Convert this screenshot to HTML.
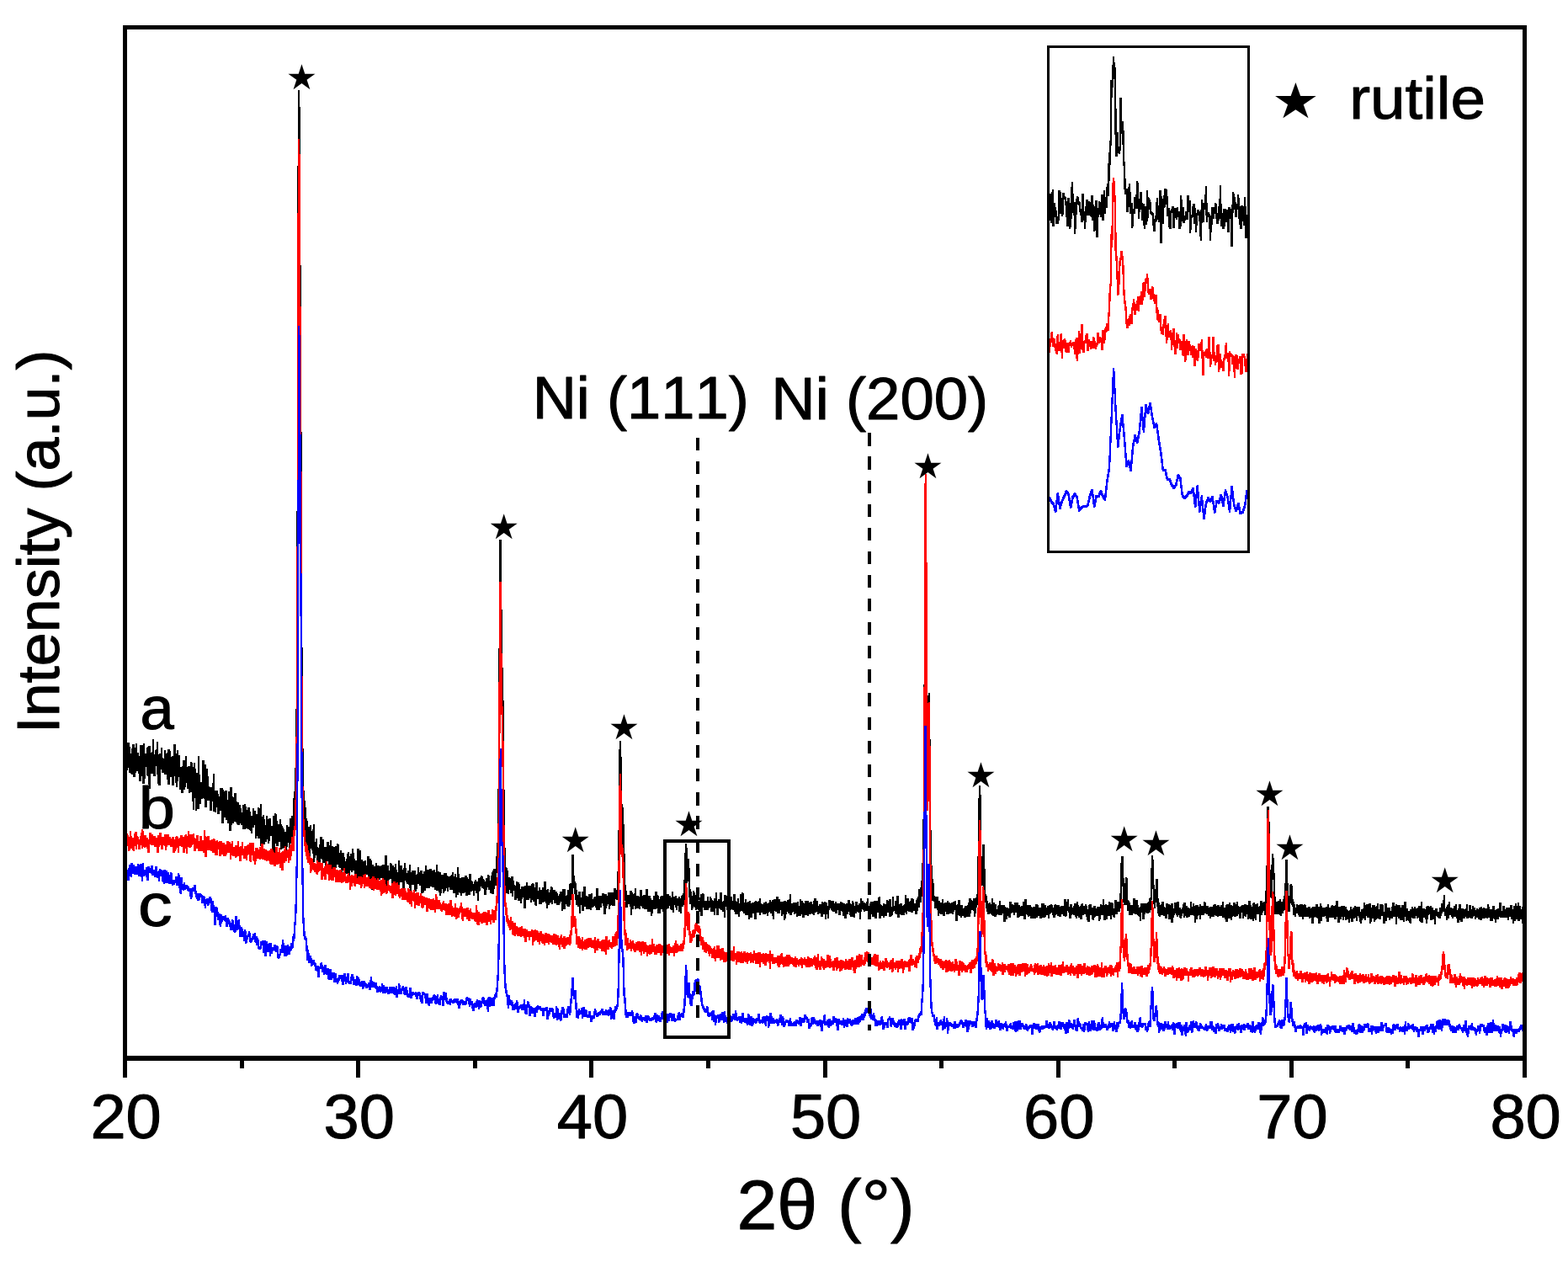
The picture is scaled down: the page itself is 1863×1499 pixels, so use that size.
<!DOCTYPE html>
<html lang="en"><head><meta charset="utf-8"><title>XRD patterns</title><style>html,body{margin:0;padding:0;background:#ffffff;}svg{display:block;}</style></head><body><svg width="1863" height="1499" viewBox="0 0 1863 1499">
<rect x="0" y="0" width="1863" height="1499" fill="#ffffff"/>
<g fill="none" stroke-width="1" shape-rendering="crispEdges">
<path d="M150.5 886V917M151.5 882V915M152.5 882V912M153.5 882V918M154.5 887V918M155.5 895V919M156.5 889V920M157.5 884V920M158.5 884V923M159.5 884V923M160.5 888V923M161.5 883V918M162.5 883V916M163.5 894V916M164.5 894V919M165.5 898V928M166.5 885V928M167.5 885V928M168.5 885V922M169.5 885V931M170.5 883V931M171.5 883V931M172.5 895V925M173.5 895V911M174.5 888V921M175.5 887V922M176.5 886V932M177.5 886V937M178.5 886V937M179.5 894V919M180.5 893V919M181.5 878V919M182.5 878V922M183.5 896V922M184.5 891V922M185.5 890V910M186.5 881V920M187.5 881V931M188.5 896V933M189.5 895V933M190.5 895V933M191.5 888V914M192.5 888V918M193.5 900V918M194.5 901V918M195.5 891V920M196.5 891V920M197.5 895V920M198.5 894V926M199.5 890V932M200.5 890V932M201.5 890V932M202.5 892V923M203.5 899V923M204.5 898V933M205.5 898V933M206.5 884V933M207.5 884V922M208.5 884V930M209.5 895V935M210.5 891V935M211.5 891V928M212.5 897V923M213.5 897V938M214.5 911V938M215.5 911V942M216.5 910V942M217.5 903V942M218.5 903V938M219.5 903V938M220.5 898V935M221.5 898V930M222.5 911V937M223.5 910V937M224.5 910V942M225.5 910V942M226.5 905V941M227.5 905V941M228.5 906V952M229.5 911V962M230.5 906V962M231.5 906V948M232.5 913V963M233.5 918V963M234.5 918V961M235.5 898V961M236.5 898V961M237.5 920V955M238.5 929V955M239.5 929V949M240.5 903V949M241.5 903V948M242.5 903V949M243.5 908V959M244.5 908V959M245.5 913V959M246.5 913V951M247.5 922V951M248.5 934V951M249.5 935V963M250.5 935V963M251.5 935V963M252.5 930V952M253.5 919V964M254.5 919V964M255.5 939V965M256.5 939V965M257.5 939V959M258.5 939V967M259.5 943V967M260.5 946V967M261.5 936V963M262.5 936V963M263.5 936V978M264.5 936V978M265.5 938V978M266.5 940V971M267.5 939V971M268.5 939V974M269.5 939V974M270.5 950V978M271.5 940V978M272.5 940V987M273.5 935V987M274.5 935V987M275.5 935V980M276.5 946V978M277.5 947V978M278.5 942V976M279.5 942V976M280.5 942V977M281.5 952V979M282.5 953V980M283.5 953V980M284.5 956V980M285.5 956V978M286.5 960V980M287.5 965V980M288.5 956V985M289.5 956V985M290.5 955V985M291.5 955V985M292.5 958V984M293.5 962V984M294.5 959V985M295.5 959V985M296.5 959V986M297.5 964V987M298.5 969V990M299.5 969V990M300.5 960V983M301.5 960V983M302.5 963V980M303.5 963V996M304.5 967V996M305.5 967V993M306.5 959V996M307.5 959V996M308.5 960V996M309.5 955V1005M310.5 955V1005M311.5 970V1005M312.5 968V1003M313.5 968V1003M314.5 973V1003M315.5 980V1000M316.5 969V1000M317.5 969V997M318.5 973V1002M319.5 972V1002M320.5 972V999M321.5 972V993M322.5 981V993M323.5 981V1011M324.5 969V1011M325.5 969V1013M326.5 966V1013M327.5 966V1002M328.5 967V1005M329.5 975V1005M330.5 979V1005M331.5 979V1000M332.5 973V1000M333.5 973V1009M334.5 979V1009M335.5 981V1008M336.5 983V1008M337.5 985V1007M338.5 988V1015M339.5 988V1015M340.5 980V1015M341.5 980V1006M342.5 982V1001M343.5 982V1008M344.5 972V1008M345.5 972V1002M346.5 969V995M347.5 969V995M348.5 948V993M349.5 940V990M350.5 912V965M351.5 842V952M352.5 607V921M353.5 197V869M354.5 107V699M355.5 107V359M356.5 127V584M357.5 315V812M358.5 513V916M359.5 769V948M360.5 889V959M361.5 939V978M362.5 951V1004M363.5 959V1004M364.5 972V1003M365.5 975V1006M366.5 982V1017M367.5 982V1017M368.5 980V1017M369.5 980V1008M370.5 987V1010M371.5 985V1014M372.5 979V1024M373.5 979V1024M374.5 1000V1019M375.5 996V1016M376.5 996V1025M377.5 1006V1030M378.5 1007V1030M379.5 1003V1026M380.5 994V1024M381.5 994V1020M382.5 994V1021M383.5 997V1025M384.5 997V1025M385.5 1006V1025M386.5 1006V1032M387.5 1006V1032M388.5 1000V1032M389.5 1000V1023M390.5 1000V1028M391.5 1004V1028M392.5 998V1028M393.5 998V1038M394.5 1005V1038M395.5 1005V1038M396.5 1006V1038M397.5 1006V1031M398.5 1005V1031M399.5 1005V1031M400.5 1002V1027M401.5 1002V1027M402.5 1003V1030M403.5 1013V1031M404.5 1010V1031M405.5 1010V1036M406.5 1013V1036M407.5 1013V1034M408.5 1013V1038M409.5 1018V1038M410.5 1023V1038M411.5 1020V1038M412.5 1014V1038M413.5 1012V1045M414.5 1012V1045M415.5 1017V1045M416.5 1014V1034M417.5 1014V1036M418.5 1008V1036M419.5 1008V1034M420.5 1013V1034M421.5 1020V1049M422.5 1022V1049M423.5 1022V1049M424.5 1008V1050M425.5 1008V1050M426.5 1008V1050M427.5 1010V1043M428.5 1010V1051M429.5 1021V1051M430.5 1021V1045M431.5 1023V1046M432.5 1023V1046M433.5 1022V1039M434.5 1022V1039M435.5 1028V1039M436.5 1017V1039M437.5 1017V1042M438.5 1017V1042M439.5 1020V1049M440.5 1020V1049M441.5 1022V1057M442.5 1027V1057M443.5 1027V1057M444.5 1029V1051M445.5 1029V1051M446.5 1025V1051M447.5 1025V1050M448.5 1028V1050M449.5 1028V1050M450.5 1028V1045M451.5 1029V1045M452.5 1028V1043M453.5 1028V1043M454.5 1027V1045M455.5 1027V1049M456.5 1027V1049M457.5 1016V1047M458.5 1016V1051M459.5 1016V1057M460.5 1028V1057M461.5 1028V1049M462.5 1034V1045M463.5 1025V1044M464.5 1025V1044M465.5 1026V1052M466.5 1028V1052M467.5 1028V1052M468.5 1030V1047M469.5 1026V1051M470.5 1026V1056M471.5 1033V1056M472.5 1036V1056M473.5 1022V1054M474.5 1022V1054M475.5 1028V1048M476.5 1028V1048M477.5 1028V1048M478.5 1033V1061M479.5 1031V1061M480.5 1025V1061M481.5 1025V1046M482.5 1031V1048M483.5 1037V1050M484.5 1034V1050M485.5 1034V1051M486.5 1027V1055M487.5 1027V1059M488.5 1036V1059M489.5 1034V1051M490.5 1034V1051M491.5 1034V1051M492.5 1034V1059M493.5 1034V1059M494.5 1039V1059M495.5 1038V1056M496.5 1030V1050M497.5 1030V1050M498.5 1036V1052M499.5 1034V1052M500.5 1034V1061M501.5 1034V1061M502.5 1038V1061M503.5 1035V1060M504.5 1035V1058M505.5 1028V1058M506.5 1028V1055M507.5 1033V1055M508.5 1033V1055M509.5 1033V1055M510.5 1032V1055M511.5 1032V1053M512.5 1032V1053M513.5 1034V1054M514.5 1034V1054M515.5 1033V1054M516.5 1033V1057M517.5 1036V1057M518.5 1027V1058M519.5 1027V1058M520.5 1035V1058M521.5 1035V1060M522.5 1036V1064M523.5 1036V1064M524.5 1039V1061M525.5 1039V1056M526.5 1039V1061M527.5 1037V1061M528.5 1037V1059M529.5 1037V1058M530.5 1037V1055M531.5 1040V1059M532.5 1041V1059M533.5 1041V1054M534.5 1041V1057M535.5 1040V1057M536.5 1039V1057M537.5 1036V1057M538.5 1036V1061M539.5 1041V1061M540.5 1038V1061M541.5 1038V1066M542.5 1042V1066M543.5 1030V1063M544.5 1030V1063M545.5 1038V1060M546.5 1043V1061M547.5 1043V1064M548.5 1042V1064M549.5 1042V1061M550.5 1042V1061M551.5 1042V1061M552.5 1040V1060M553.5 1040V1064M554.5 1040V1064M555.5 1042V1064M556.5 1044V1063M557.5 1038V1063M558.5 1038V1063M559.5 1038V1059M560.5 1046V1059M561.5 1047V1058M562.5 1050V1064M563.5 1047V1064M564.5 1045V1058M565.5 1045V1061M566.5 1047V1061M567.5 1047V1070M568.5 1043V1070M569.5 1043V1059M570.5 1042V1058M571.5 1040V1053M572.5 1040V1055M573.5 1041V1055M574.5 1044V1056M575.5 1045V1063M576.5 1047V1063M577.5 1043V1063M578.5 1043V1057M579.5 1039V1054M580.5 1039V1057M581.5 1040V1057M582.5 1046V1061M583.5 1040V1061M584.5 1036V1062M585.5 1034V1062M586.5 1032V1062M587.5 1032V1056M588.5 1032V1052M589.5 1017V1052M590.5 1001V1037M591.5 937V1034M592.5 770V1008M593.5 641V958M594.5 641V831M595.5 641V801M596.5 724V863M597.5 793V974M598.5 832V1014M599.5 938V1033M600.5 1007V1061M601.5 1030V1061M602.5 1031V1061M603.5 1034V1062M604.5 1042V1062M605.5 1042V1057M606.5 1043V1061M607.5 1041V1061M608.5 1041V1065M609.5 1041V1065M610.5 1046V1058M611.5 1051V1069M612.5 1052V1069M613.5 1047V1069M614.5 1047V1067M615.5 1048V1070M616.5 1048V1070M617.5 1050V1070M618.5 1056V1073M619.5 1053V1073M620.5 1053V1068M621.5 1053V1066M622.5 1053V1079M623.5 1052V1079M624.5 1052V1079M625.5 1048V1069M626.5 1048V1069M627.5 1052V1069M628.5 1052V1069M629.5 1052V1067M630.5 1052V1072M631.5 1050V1072M632.5 1049V1069M633.5 1049V1071M634.5 1050V1071M635.5 1054V1075M636.5 1048V1076M637.5 1048V1076M638.5 1048V1068M639.5 1058V1068M640.5 1054V1074M641.5 1054V1074M642.5 1057V1074M643.5 1057V1074M644.5 1054V1072M645.5 1054V1072M646.5 1047V1071M647.5 1047V1071M648.5 1047V1073M649.5 1057V1079M650.5 1056V1079M651.5 1056V1075M652.5 1060V1075M653.5 1057V1073M654.5 1053V1072M655.5 1053V1074M656.5 1054V1074M657.5 1057V1069M658.5 1057V1073M659.5 1057V1073M660.5 1059V1073M661.5 1059V1075M662.5 1061V1075M663.5 1064V1075M664.5 1062V1075M665.5 1059V1073M666.5 1059V1071M667.5 1059V1082M668.5 1056V1082M669.5 1056V1080M670.5 1056V1080M671.5 1056V1080M672.5 1064V1074M673.5 1063V1076M674.5 1057V1077M675.5 1057V1077M676.5 1050V1077M677.5 1049V1075M678.5 1049V1069M679.5 1015V1063M680.5 1015V1063M681.5 1015V1055M682.5 1040V1062M683.5 1047V1069M684.5 1049V1075M685.5 1057V1075M686.5 1063V1077M687.5 1059V1077M688.5 1059V1085M689.5 1059V1085M690.5 1066V1075M691.5 1059V1082M692.5 1059V1082M693.5 1053V1082M694.5 1053V1077M695.5 1053V1077M696.5 1064V1080M697.5 1064V1080M698.5 1065V1080M699.5 1062V1080M700.5 1062V1080M701.5 1062V1081M702.5 1061V1081M703.5 1061V1078M704.5 1068V1078M705.5 1066V1077M706.5 1065V1076M707.5 1065V1078M708.5 1055V1081M709.5 1055V1081M710.5 1055V1081M711.5 1064V1081M712.5 1064V1081M713.5 1064V1078M714.5 1064V1078M715.5 1061V1073M716.5 1061V1076M717.5 1061V1086M718.5 1062V1086M719.5 1062V1086M720.5 1062V1079M721.5 1064V1076M722.5 1060V1074M723.5 1060V1080M724.5 1060V1080M725.5 1060V1076M726.5 1060V1075M727.5 1060V1076M728.5 1060V1076M729.5 1055V1076M730.5 1055V1076M731.5 1055V1068M732.5 1057V1069M733.5 1035V1069M734.5 986V1062M735.5 890V1039M736.5 880V1010M737.5 880V968M738.5 899V973M739.5 955V1005M740.5 959V1041M741.5 979V1061M742.5 1014V1070M743.5 1051V1078M744.5 1058V1078M745.5 1063V1078M746.5 1063V1074M747.5 1063V1074M748.5 1058V1077M749.5 1058V1087M750.5 1058V1087M751.5 1060V1080M752.5 1062V1080M753.5 1061V1076M754.5 1055V1080M755.5 1055V1080M756.5 1064V1079M757.5 1064V1079M758.5 1064V1079M759.5 1065V1080M760.5 1057V1080M761.5 1057V1076M762.5 1057V1077M763.5 1064V1079M764.5 1063V1079M765.5 1063V1080M766.5 1063V1080M767.5 1056V1080M768.5 1056V1080M769.5 1056V1083M770.5 1064V1083M771.5 1064V1083M772.5 1064V1083M773.5 1067V1088M774.5 1069V1088M775.5 1069V1085M776.5 1064V1080M777.5 1064V1080M778.5 1059V1080M779.5 1059V1080M780.5 1059V1079M781.5 1063V1085M782.5 1064V1085M783.5 1068V1085M784.5 1065V1085M785.5 1064V1080M786.5 1064V1080M787.5 1064V1083M788.5 1062V1083M789.5 1062V1078M790.5 1062V1079M791.5 1062V1080M792.5 1062V1080M793.5 1062V1079M794.5 1062V1079M795.5 1064V1076M796.5 1064V1080M797.5 1066V1081M798.5 1059V1081M799.5 1059V1084M800.5 1065V1084M801.5 1065V1075M802.5 1064V1078M803.5 1064V1081M804.5 1067V1081M805.5 1067V1076M806.5 1065V1083M807.5 1065V1083M808.5 1067V1085M809.5 1064V1085M810.5 1063V1077M811.5 1061V1077M812.5 1045V1075M813.5 1013V1072M814.5 1002V1060M815.5 1002V1049M816.5 1007V1049M817.5 1020V1047M818.5 1020V1066M819.5 1031V1074M820.5 1056V1074M821.5 1059V1081M822.5 1064V1081M823.5 1058V1079M824.5 1058V1077M825.5 1060V1078M826.5 1063V1081M827.5 1062V1081M828.5 1062V1080M829.5 1066V1081M830.5 1070V1083M831.5 1066V1083M832.5 1062V1088M833.5 1062V1088M834.5 1061V1088M835.5 1061V1078M836.5 1062V1081M837.5 1070V1081M838.5 1070V1081M839.5 1070V1081M840.5 1065V1081M841.5 1065V1081M842.5 1070V1079M843.5 1065V1078M844.5 1065V1083M845.5 1067V1083M846.5 1069V1083M847.5 1070V1083M848.5 1067V1087M849.5 1067V1087M850.5 1060V1079M851.5 1060V1087M852.5 1070V1087M853.5 1068V1087M854.5 1068V1079M855.5 1060V1080M856.5 1060V1081M857.5 1060V1081M858.5 1071V1083M859.5 1070V1083M860.5 1063V1090M861.5 1063V1090M862.5 1063V1077M863.5 1064V1081M864.5 1064V1081M865.5 1065V1085M866.5 1065V1085M867.5 1068V1085M868.5 1065V1081M869.5 1065V1080M870.5 1070V1081M871.5 1062V1081M872.5 1062V1083M873.5 1062V1086M874.5 1070V1086M875.5 1071V1086M876.5 1067V1086M877.5 1067V1089M878.5 1073V1089M879.5 1062V1083M880.5 1062V1082M881.5 1060V1082M882.5 1060V1083M883.5 1061V1085M884.5 1072V1085M885.5 1068V1087M886.5 1068V1087M887.5 1072V1087M888.5 1071V1087M889.5 1071V1092M890.5 1070V1092M891.5 1070V1090M892.5 1073V1090M893.5 1072V1090M894.5 1072V1085M895.5 1072V1085M896.5 1071V1092M897.5 1070V1092M898.5 1070V1092M899.5 1071V1084M900.5 1071V1084M901.5 1070V1084M902.5 1067V1087M903.5 1067V1087M904.5 1073V1084M905.5 1074V1084M906.5 1074V1086M907.5 1072V1086M908.5 1072V1086M909.5 1071V1086M910.5 1071V1085M911.5 1073V1088M912.5 1073V1088M913.5 1072V1084M914.5 1069V1083M915.5 1069V1085M916.5 1071V1085M917.5 1069V1088M918.5 1069V1092M919.5 1068V1092M920.5 1068V1082M921.5 1068V1083M922.5 1065V1083M923.5 1065V1085M924.5 1065V1085M925.5 1068V1085M926.5 1068V1085M927.5 1071V1081M928.5 1071V1088M929.5 1071V1088M930.5 1071V1086M931.5 1070V1093M932.5 1070V1093M933.5 1070V1091M934.5 1071V1086M935.5 1069V1083M936.5 1069V1085M937.5 1068V1085M938.5 1062V1087M939.5 1062V1087M940.5 1073V1087M941.5 1073V1084M942.5 1072V1083M943.5 1072V1086M944.5 1072V1086M945.5 1072V1085M946.5 1072V1089M947.5 1071V1089M948.5 1071V1088M949.5 1076V1088M950.5 1068V1088M951.5 1068V1088M952.5 1070V1086M953.5 1070V1090M954.5 1072V1090M955.5 1073V1090M956.5 1070V1087M957.5 1070V1087M958.5 1070V1087M959.5 1070V1088M960.5 1070V1088M961.5 1072V1086M962.5 1071V1086M963.5 1071V1086M964.5 1071V1085M965.5 1074V1086M966.5 1070V1087M967.5 1067V1087M968.5 1067V1084M969.5 1067V1084M970.5 1070V1083M971.5 1070V1086M972.5 1076V1086M973.5 1074V1085M974.5 1074V1085M975.5 1074V1089M976.5 1071V1089M977.5 1071V1089M978.5 1072V1086M979.5 1071V1086M980.5 1071V1092M981.5 1072V1092M982.5 1072V1086M983.5 1076V1091M984.5 1069V1091M985.5 1069V1081M986.5 1069V1079M987.5 1070V1081M988.5 1070V1082M989.5 1070V1083M990.5 1070V1083M991.5 1073V1083M992.5 1071V1085M993.5 1071V1085M994.5 1073V1085M995.5 1073V1081M996.5 1073V1087M997.5 1073V1087M998.5 1071V1087M999.5 1071V1082M1000.5 1072V1083M1001.5 1072V1088M1002.5 1073V1088M1003.5 1073V1091M1004.5 1074V1091M1005.5 1073V1091M1006.5 1073V1086M1007.5 1069V1086M1008.5 1069V1083M1009.5 1069V1087M1010.5 1073V1089M1011.5 1074V1089M1012.5 1070V1089M1013.5 1070V1089M1014.5 1072V1090M1015.5 1076V1090M1016.5 1071V1085M1017.5 1071V1085M1018.5 1071V1083M1019.5 1075V1084M1020.5 1073V1084M1021.5 1073V1092M1022.5 1067V1092M1023.5 1067V1083M1024.5 1070V1080M1025.5 1070V1081M1026.5 1072V1083M1027.5 1072V1083M1028.5 1073V1082M1029.5 1071V1082M1030.5 1067V1082M1031.5 1067V1087M1032.5 1076V1087M1033.5 1073V1085M1034.5 1071V1084M1035.5 1071V1086M1036.5 1071V1089M1037.5 1071V1089M1038.5 1070V1089M1039.5 1070V1091M1040.5 1070V1091M1041.5 1070V1091M1042.5 1070V1084M1043.5 1066V1084M1044.5 1065V1091M1045.5 1065V1091M1046.5 1074V1091M1047.5 1075V1088M1048.5 1076V1088M1049.5 1073V1090M1050.5 1073V1090M1051.5 1074V1088M1052.5 1074V1088M1053.5 1069V1088M1054.5 1069V1084M1055.5 1070V1084M1056.5 1068V1089M1057.5 1068V1089M1058.5 1068V1089M1059.5 1077V1088M1060.5 1065V1087M1061.5 1065V1083M1062.5 1076V1082M1063.5 1070V1085M1064.5 1070V1086M1065.5 1064V1086M1066.5 1064V1090M1067.5 1064V1090M1068.5 1074V1090M1069.5 1073V1086M1070.5 1073V1087M1071.5 1073V1087M1072.5 1076V1087M1073.5 1075V1087M1074.5 1074V1087M1075.5 1063V1084M1076.5 1063V1086M1077.5 1067V1086M1078.5 1067V1082M1079.5 1067V1083M1080.5 1071V1083M1081.5 1070V1083M1082.5 1067V1084M1083.5 1067V1084M1084.5 1067V1084M1085.5 1068V1082M1086.5 1073V1082M1087.5 1073V1086M1088.5 1069V1086M1089.5 1067V1086M1090.5 1065V1082M1091.5 1056V1078M1092.5 1056V1078M1093.5 1054V1072M1094.5 1046V1072M1095.5 1025V1065M1096.5 973V1062M1097.5 813V1032M1098.5 618V989M1099.5 607V869M1100.5 607V913M1101.5 693V921M1102.5 826V921M1103.5 823V912M1104.5 823V1008M1105.5 878V1046M1106.5 986V1057M1107.5 1028V1070M1108.5 1044V1070M1109.5 1049V1071M1110.5 1064V1079M1111.5 1065V1079M1112.5 1065V1079M1113.5 1065V1081M1114.5 1065V1088M1115.5 1070V1088M1116.5 1070V1085M1117.5 1072V1086M1118.5 1072V1086M1119.5 1068V1086M1120.5 1068V1088M1121.5 1073V1088M1122.5 1072V1088M1123.5 1072V1083M1124.5 1072V1086M1125.5 1070V1086M1126.5 1070V1086M1127.5 1072V1086M1128.5 1072V1085M1129.5 1073V1085M1130.5 1072V1085M1131.5 1072V1086M1132.5 1071V1086M1133.5 1071V1083M1134.5 1070V1081M1135.5 1070V1094M1136.5 1075V1094M1137.5 1074V1094M1138.5 1069V1087M1139.5 1069V1088M1140.5 1069V1088M1141.5 1075V1090M1142.5 1075V1090M1143.5 1075V1088M1144.5 1079V1088M1145.5 1078V1090M1146.5 1076V1090M1147.5 1076V1090M1148.5 1076V1089M1149.5 1075V1089M1150.5 1072V1089M1151.5 1067V1089M1152.5 1067V1089M1153.5 1067V1085M1154.5 1069V1081M1155.5 1070V1081M1156.5 1067V1082M1157.5 1067V1089M1158.5 1067V1089M1159.5 1066V1085M1160.5 1062V1078M1161.5 1017V1075M1162.5 948V1070M1163.5 933V1040M1164.5 933V1028M1165.5 944V1050M1166.5 1017V1052M1167.5 1003V1052M1168.5 1003V1054M1169.5 1003V1070M1170.5 1032V1072M1171.5 1062V1079M1172.5 1064V1083M1173.5 1070V1086M1174.5 1073V1086M1175.5 1072V1086M1176.5 1072V1085M1177.5 1074V1086M1178.5 1067V1087M1179.5 1067V1088M1180.5 1072V1088M1181.5 1072V1089M1182.5 1074V1089M1183.5 1074V1089M1184.5 1080V1087M1185.5 1076V1086M1186.5 1075V1087M1187.5 1070V1087M1188.5 1070V1087M1189.5 1075V1087M1190.5 1075V1087M1191.5 1075V1085M1192.5 1075V1095M1193.5 1075V1095M1194.5 1077V1095M1195.5 1078V1092M1196.5 1078V1092M1197.5 1078V1088M1198.5 1079V1090M1199.5 1071V1090M1200.5 1071V1090M1201.5 1071V1085M1202.5 1074V1084M1203.5 1074V1084M1204.5 1075V1087M1205.5 1072V1087M1206.5 1072V1084M1207.5 1072V1084M1208.5 1072V1090M1209.5 1072V1090M1210.5 1075V1090M1211.5 1075V1089M1212.5 1077V1088M1213.5 1076V1088M1214.5 1076V1088M1215.5 1071V1088M1216.5 1071V1092M1217.5 1068V1092M1218.5 1068V1092M1219.5 1068V1086M1220.5 1075V1087M1221.5 1075V1089M1222.5 1075V1089M1223.5 1075V1088M1224.5 1075V1091M1225.5 1077V1091M1226.5 1078V1091M1227.5 1077V1091M1228.5 1077V1091M1229.5 1077V1091M1230.5 1074V1091M1231.5 1074V1090M1232.5 1074V1090M1233.5 1075V1088M1234.5 1078V1088M1235.5 1078V1091M1236.5 1078V1091M1237.5 1073V1091M1238.5 1073V1090M1239.5 1073V1090M1240.5 1073V1090M1241.5 1075V1090M1242.5 1075V1089M1243.5 1078V1087M1244.5 1076V1087M1245.5 1076V1091M1246.5 1075V1091M1247.5 1075V1086M1248.5 1074V1085M1249.5 1074V1084M1250.5 1075V1087M1251.5 1078V1090M1252.5 1075V1090M1253.5 1074V1090M1254.5 1074V1087M1255.5 1075V1086M1256.5 1075V1088M1257.5 1075V1088M1258.5 1075V1089M1259.5 1077V1089M1260.5 1076V1089M1261.5 1076V1086M1262.5 1076V1086M1263.5 1076V1088M1264.5 1068V1088M1265.5 1068V1089M1266.5 1068V1089M1267.5 1071V1088M1268.5 1068V1082M1269.5 1068V1084M1270.5 1077V1091M1271.5 1074V1091M1272.5 1074V1091M1273.5 1074V1087M1274.5 1078V1086M1275.5 1076V1087M1276.5 1073V1087M1277.5 1073V1089M1278.5 1073V1091M1279.5 1071V1091M1280.5 1071V1088M1281.5 1075V1090M1282.5 1077V1090M1283.5 1076V1092M1284.5 1074V1092M1285.5 1073V1092M1286.5 1073V1087M1287.5 1076V1087M1288.5 1076V1086M1289.5 1074V1086M1290.5 1074V1089M1291.5 1076V1093M1292.5 1080V1095M1293.5 1075V1095M1294.5 1074V1095M1295.5 1074V1087M1296.5 1074V1087M1297.5 1078V1092M1298.5 1078V1093M1299.5 1076V1093M1300.5 1076V1090M1301.5 1076V1089M1302.5 1079V1088M1303.5 1077V1088M1304.5 1077V1088M1305.5 1077V1094M1306.5 1077V1094M1307.5 1074V1092M1308.5 1074V1087M1309.5 1075V1087M1310.5 1068V1087M1311.5 1068V1093M1312.5 1075V1093M1313.5 1074V1093M1314.5 1074V1092M1315.5 1075V1092M1316.5 1075V1088M1317.5 1071V1088M1318.5 1071V1088M1319.5 1072V1092M1320.5 1072V1092M1321.5 1072V1087M1322.5 1073V1089M1323.5 1079V1090M1324.5 1069V1090M1325.5 1069V1086M1326.5 1069V1086M1327.5 1071V1086M1328.5 1071V1083M1329.5 1071V1083M1330.5 1061V1083M1331.5 1025V1079M1332.5 1017V1068M1333.5 1017V1053M1334.5 1017V1072M1335.5 1043V1075M1336.5 1049V1075M1337.5 1042V1075M1338.5 1042V1075M1339.5 1043V1082M1340.5 1069V1082M1341.5 1070V1087M1342.5 1072V1087M1343.5 1075V1087M1344.5 1075V1087M1345.5 1075V1087M1346.5 1067V1085M1347.5 1067V1085M1348.5 1067V1086M1349.5 1069V1086M1350.5 1069V1086M1351.5 1069V1087M1352.5 1075V1088M1353.5 1078V1089M1354.5 1077V1094M1355.5 1073V1094M1356.5 1073V1084M1357.5 1073V1092M1358.5 1073V1092M1359.5 1073V1092M1360.5 1073V1086M1361.5 1073V1084M1362.5 1073V1085M1363.5 1072V1085M1364.5 1071V1085M1365.5 1067V1084M1366.5 1066V1084M1367.5 1031V1081M1368.5 1016V1069M1369.5 1016V1056M1370.5 1021V1074M1371.5 1051V1079M1372.5 1056V1079M1373.5 1044V1072M1374.5 1044V1077M1375.5 1044V1085M1376.5 1067V1088M1377.5 1072V1089M1378.5 1075V1089M1379.5 1074V1087M1380.5 1071V1087M1381.5 1071V1087M1382.5 1071V1088M1383.5 1077V1088M1384.5 1078V1091M1385.5 1073V1091M1386.5 1073V1091M1387.5 1073V1086M1388.5 1074V1092M1389.5 1074V1092M1390.5 1075V1092M1391.5 1073V1096M1392.5 1073V1096M1393.5 1073V1096M1394.5 1079V1090M1395.5 1072V1087M1396.5 1072V1085M1397.5 1072V1087M1398.5 1071V1089M1399.5 1071V1089M1400.5 1071V1087M1401.5 1078V1090M1402.5 1078V1091M1403.5 1080V1091M1404.5 1078V1088M1405.5 1074V1085M1406.5 1072V1090M1407.5 1072V1090M1408.5 1072V1088M1409.5 1076V1090M1410.5 1076V1090M1411.5 1078V1090M1412.5 1078V1089M1413.5 1079V1089M1414.5 1071V1087M1415.5 1071V1087M1416.5 1077V1087M1417.5 1073V1087M1418.5 1073V1088M1419.5 1076V1096M1420.5 1075V1096M1421.5 1075V1092M1422.5 1075V1092M1423.5 1075V1088M1424.5 1077V1087M1425.5 1074V1092M1426.5 1074V1092M1427.5 1076V1087M1428.5 1076V1087M1429.5 1076V1087M1430.5 1071V1087M1431.5 1071V1085M1432.5 1072V1085M1433.5 1076V1086M1434.5 1076V1086M1435.5 1076V1088M1436.5 1078V1088M1437.5 1077V1091M1438.5 1077V1091M1439.5 1077V1089M1440.5 1077V1089M1441.5 1075V1089M1442.5 1074V1089M1443.5 1074V1087M1444.5 1074V1088M1445.5 1076V1088M1446.5 1075V1089M1447.5 1075V1089M1448.5 1075V1088M1449.5 1077V1088M1450.5 1075V1088M1451.5 1075V1088M1452.5 1071V1090M1453.5 1071V1090M1454.5 1078V1090M1455.5 1078V1092M1456.5 1075V1095M1457.5 1074V1095M1458.5 1074V1095M1459.5 1074V1091M1460.5 1072V1091M1461.5 1072V1091M1462.5 1075V1093M1463.5 1075V1093M1464.5 1076V1089M1465.5 1072V1088M1466.5 1072V1089M1467.5 1072V1089M1468.5 1074V1089M1469.5 1071V1088M1470.5 1071V1088M1471.5 1076V1086M1472.5 1077V1091M1473.5 1077V1091M1474.5 1076V1091M1475.5 1075V1084M1476.5 1075V1091M1477.5 1075V1091M1478.5 1074V1088M1479.5 1074V1089M1480.5 1074V1089M1481.5 1075V1086M1482.5 1075V1092M1483.5 1070V1092M1484.5 1070V1091M1485.5 1070V1092M1486.5 1075V1092M1487.5 1077V1092M1488.5 1073V1094M1489.5 1072V1094M1490.5 1072V1091M1491.5 1074V1093M1492.5 1074V1093M1493.5 1073V1086M1494.5 1073V1086M1495.5 1077V1086M1496.5 1076V1095M1497.5 1070V1095M1498.5 1070V1087M1499.5 1070V1087M1500.5 1072V1084M1501.5 1071V1082M1502.5 1071V1087M1503.5 1058V1087M1504.5 1028V1079M1505.5 958V1063M1506.5 958V1042M1507.5 958V1052M1508.5 976V1060M1509.5 1033V1066M1510.5 1027V1067M1511.5 1014V1067M1512.5 1014V1045M1513.5 1019V1070M1514.5 1037V1086M1515.5 1065V1086M1516.5 1071V1086M1517.5 1071V1086M1518.5 1070V1086M1519.5 1070V1086M1520.5 1068V1087M1521.5 1068V1088M1522.5 1071V1088M1523.5 1071V1085M1524.5 1068V1085M1525.5 1064V1082M1526.5 1049V1081M1527.5 1021V1068M1528.5 1021V1060M1529.5 1021V1073M1530.5 1049V1083M1531.5 1064V1083M1532.5 1051V1083M1533.5 1050V1073M1534.5 1050V1075M1535.5 1052V1077M1536.5 1068V1087M1537.5 1071V1087M1538.5 1074V1089M1539.5 1078V1089M1540.5 1074V1085M1541.5 1074V1085M1542.5 1075V1087M1543.5 1075V1089M1544.5 1074V1089M1545.5 1074V1089M1546.5 1074V1089M1547.5 1074V1092M1548.5 1075V1092M1549.5 1074V1089M1550.5 1074V1089M1551.5 1075V1089M1552.5 1078V1089M1553.5 1078V1089M1554.5 1077V1089M1555.5 1077V1091M1556.5 1077V1091M1557.5 1079V1090M1558.5 1078V1097M1559.5 1077V1097M1560.5 1077V1097M1561.5 1077V1090M1562.5 1077V1089M1563.5 1074V1090M1564.5 1074V1090M1565.5 1074V1091M1566.5 1077V1097M1567.5 1077V1097M1568.5 1073V1097M1569.5 1073V1094M1570.5 1076V1094M1571.5 1078V1089M1572.5 1078V1089M1573.5 1078V1089M1574.5 1078V1088M1575.5 1077V1091M1576.5 1077V1095M1577.5 1074V1095M1578.5 1074V1095M1579.5 1078V1090M1580.5 1078V1090M1581.5 1076V1090M1582.5 1075V1090M1583.5 1075V1090M1584.5 1076V1090M1585.5 1076V1092M1586.5 1075V1092M1587.5 1070V1092M1588.5 1070V1089M1589.5 1070V1096M1590.5 1077V1096M1591.5 1077V1096M1592.5 1077V1092M1593.5 1076V1092M1594.5 1076V1089M1595.5 1076V1093M1596.5 1076V1093M1597.5 1076V1089M1598.5 1077V1093M1599.5 1077V1093M1600.5 1080V1092M1601.5 1081V1092M1602.5 1082V1096M1603.5 1081V1096M1604.5 1077V1091M1605.5 1077V1095M1606.5 1080V1095M1607.5 1078V1095M1608.5 1078V1091M1609.5 1076V1091M1610.5 1076V1090M1611.5 1077V1094M1612.5 1077V1094M1613.5 1077V1088M1614.5 1077V1090M1615.5 1077V1095M1616.5 1083V1097M1617.5 1080V1097M1618.5 1080V1093M1619.5 1079V1091M1620.5 1072V1091M1621.5 1072V1093M1622.5 1075V1093M1623.5 1074V1088M1624.5 1074V1090M1625.5 1074V1090M1626.5 1073V1090M1627.5 1073V1097M1628.5 1073V1097M1629.5 1078V1095M1630.5 1075V1091M1631.5 1075V1091M1632.5 1075V1095M1633.5 1075V1095M1634.5 1077V1093M1635.5 1076V1092M1636.5 1073V1091M1637.5 1073V1091M1638.5 1080V1092M1639.5 1074V1092M1640.5 1074V1092M1641.5 1074V1088M1642.5 1074V1088M1643.5 1075V1097M1644.5 1083V1097M1645.5 1073V1097M1646.5 1073V1094M1647.5 1073V1094M1648.5 1078V1090M1649.5 1078V1090M1650.5 1078V1093M1651.5 1078V1093M1652.5 1082V1091M1653.5 1077V1091M1654.5 1072V1091M1655.5 1072V1089M1656.5 1072V1089M1657.5 1076V1089M1658.5 1074V1098M1659.5 1074V1098M1660.5 1075V1089M1661.5 1075V1091M1662.5 1075V1091M1663.5 1075V1093M1664.5 1078V1093M1665.5 1075V1093M1666.5 1075V1093M1667.5 1075V1095M1668.5 1071V1095M1669.5 1071V1089M1670.5 1071V1094M1671.5 1079V1094M1672.5 1079V1093M1673.5 1082V1094M1674.5 1082V1096M1675.5 1080V1097M1676.5 1080V1097M1677.5 1077V1090M1678.5 1077V1091M1679.5 1079V1091M1680.5 1077V1091M1681.5 1077V1091M1682.5 1079V1088M1683.5 1079V1091M1684.5 1078V1091M1685.5 1076V1090M1686.5 1076V1094M1687.5 1076V1095M1688.5 1071V1096M1689.5 1071V1096M1690.5 1079V1096M1691.5 1079V1090M1692.5 1079V1090M1693.5 1080V1092M1694.5 1077V1097M1695.5 1076V1097M1696.5 1076V1092M1697.5 1076V1087M1698.5 1077V1086M1699.5 1076V1093M1700.5 1076V1093M1701.5 1078V1093M1702.5 1078V1092M1703.5 1081V1092M1704.5 1081V1098M1705.5 1079V1098M1706.5 1079V1088M1707.5 1079V1089M1708.5 1083V1090M1709.5 1083V1091M1710.5 1078V1091M1711.5 1078V1091M1712.5 1073V1088M1713.5 1073V1085M1714.5 1069V1083M1715.5 1063V1083M1716.5 1063V1088M1717.5 1079V1088M1718.5 1077V1093M1719.5 1075V1093M1720.5 1074V1091M1721.5 1071V1091M1722.5 1071V1087M1723.5 1078V1087M1724.5 1078V1089M1725.5 1079V1091M1726.5 1079V1091M1727.5 1076V1089M1728.5 1076V1089M1729.5 1074V1089M1730.5 1074V1091M1731.5 1081V1096M1732.5 1079V1096M1733.5 1074V1096M1734.5 1074V1093M1735.5 1074V1095M1736.5 1079V1095M1737.5 1079V1095M1738.5 1079V1091M1739.5 1080V1091M1740.5 1080V1091M1741.5 1079V1089M1742.5 1074V1091M1743.5 1074V1091M1744.5 1082V1091M1745.5 1075V1090M1746.5 1075V1090M1747.5 1075V1091M1748.5 1080V1091M1749.5 1076V1091M1750.5 1076V1089M1751.5 1078V1088M1752.5 1078V1092M1753.5 1081V1092M1754.5 1079V1090M1755.5 1079V1090M1756.5 1080V1092M1757.5 1078V1092M1758.5 1078V1093M1759.5 1077V1093M1760.5 1077V1093M1761.5 1079V1091M1762.5 1078V1091M1763.5 1078V1091M1764.5 1079V1091M1765.5 1079V1090M1766.5 1079V1091M1767.5 1074V1091M1768.5 1074V1090M1769.5 1077V1090M1770.5 1080V1094M1771.5 1080V1094M1772.5 1080V1094M1773.5 1076V1094M1774.5 1076V1091M1775.5 1076V1092M1776.5 1081V1096M1777.5 1080V1096M1778.5 1080V1092M1779.5 1079V1092M1780.5 1079V1092M1781.5 1072V1089M1782.5 1072V1090M1783.5 1072V1090M1784.5 1082V1090M1785.5 1076V1090M1786.5 1076V1090M1787.5 1076V1090M1788.5 1080V1090M1789.5 1078V1090M1790.5 1078V1090M1791.5 1078V1093M1792.5 1078V1093M1793.5 1078V1089M1794.5 1075V1089M1795.5 1075V1092M1796.5 1075V1092M1797.5 1080V1097M1798.5 1076V1097M1799.5 1076V1094M1800.5 1073V1094M1801.5 1073V1092M1802.5 1076V1092M1803.5 1072V1094M1804.5 1072V1094M1805.5 1076V1094M1806.5 1076V1092M1807.5 1080V1092M1808.5 1077V1097M1809.5 1077V1097M1810.5 1077V1090" stroke="#000000"/>
<path d="M150.5 990V1009M151.5 990V1005M152.5 992V1011M153.5 994V1011M154.5 987V1010M155.5 987V1008M156.5 993V1008M157.5 995V1010M158.5 995V1011M159.5 990V1011M160.5 988V1005M161.5 988V1009M162.5 988V1009M163.5 993V1003M164.5 994V1009M165.5 997V1009M166.5 993V1009M167.5 989V1004M168.5 985V1008M169.5 985V1008M170.5 987V1006M171.5 992V1007M172.5 992V1007M173.5 992V1006M174.5 995V1008M175.5 995V1013M176.5 997V1013M177.5 989V1013M178.5 989V1003M179.5 989V1004M180.5 991V1004M181.5 991V1004M182.5 993V1004M183.5 993V1006M184.5 993V1006M185.5 995V1006M186.5 995V1013M187.5 992V1013M188.5 992V1013M189.5 989V1006M190.5 989V1004M191.5 989V1009M192.5 994V1009M193.5 994V1009M194.5 994V1004M195.5 991V1005M196.5 991V1010M197.5 991V1010M198.5 991V1006M199.5 991V1004M200.5 991V1004M201.5 994V1004M202.5 994V1006M203.5 996V1006M204.5 994V1006M205.5 994V1013M206.5 994V1013M207.5 997V1013M208.5 994V1011M209.5 993V1009M210.5 993V1007M211.5 994V1013M212.5 996V1013M213.5 995V1005M214.5 992V1005M215.5 992V1006M216.5 992V1006M217.5 994V1013M218.5 994V1013M219.5 992V1013M220.5 991V1008M221.5 991V1014M222.5 993V1014M223.5 987V1006M224.5 987V1007M225.5 991V1007M226.5 991V1007M227.5 991V1006M228.5 991V1004M229.5 990V1003M230.5 990V1011M231.5 995V1011M232.5 996V1011M233.5 992V1008M234.5 992V1008M235.5 992V1011M236.5 999V1011M237.5 993V1011M238.5 993V1011M239.5 993V1011M240.5 998V1011M241.5 998V1013M242.5 986V1013M243.5 986V1018M244.5 993V1018M245.5 994V1018M246.5 993V1010M247.5 993V1010M248.5 993V1010M249.5 998V1010M250.5 998V1011M251.5 997V1011M252.5 997V1013M253.5 996V1013M254.5 996V1013M255.5 997V1016M256.5 999V1016M257.5 998V1016M258.5 998V1016M259.5 1000V1009M260.5 999V1017M261.5 999V1017M262.5 999V1017M263.5 999V1015M264.5 1001V1015M265.5 1001V1017M266.5 1001V1017M267.5 1003V1017M268.5 1003V1017M269.5 999V1015M270.5 999V1013M271.5 999V1013M272.5 1000V1013M273.5 1000V1021M274.5 1002V1021M275.5 999V1016M276.5 999V1017M277.5 1006V1017M278.5 1006V1017M279.5 1004V1019M280.5 1004V1019M281.5 1004V1018M282.5 999V1017M283.5 999V1017M284.5 1006V1023M285.5 1005V1023M286.5 1005V1023M287.5 1000V1016M288.5 1000V1016M289.5 1008V1020M290.5 1005V1020M291.5 1005V1020M292.5 1005V1022M293.5 1004V1022M294.5 1003V1016M295.5 1003V1015M296.5 1001V1023M297.5 1001V1024M298.5 1001V1024M299.5 1001V1016M300.5 1001V1022M301.5 1001V1023M302.5 1011V1027M303.5 1007V1027M304.5 1007V1023M305.5 1007V1020M306.5 1007V1020M307.5 1009V1020M308.5 1006V1021M309.5 1006V1021M310.5 1002V1020M311.5 1002V1021M312.5 1002V1021M313.5 1008V1021M314.5 1008V1022M315.5 1009V1022M316.5 1009V1023M317.5 1010V1023M318.5 1011V1022M319.5 1010V1023M320.5 1010V1026M321.5 1008V1027M322.5 1008V1027M323.5 1008V1027M324.5 1010V1027M325.5 1012V1029M326.5 1013V1029M327.5 1006V1029M328.5 1006V1027M329.5 1006V1027M330.5 1012V1027M331.5 1007V1026M332.5 1007V1031M333.5 1013V1031M334.5 1012V1034M335.5 1011V1034M336.5 1011V1034M337.5 1009V1025M338.5 1005V1025M339.5 1005V1023M340.5 1010V1023M341.5 1009V1019M342.5 1009V1025M343.5 1007V1025M344.5 1003V1022M345.5 1003V1022M346.5 994V1017M347.5 994V1011M348.5 986V1011M349.5 981V1011M350.5 950V993M351.5 875V986M352.5 649V962M353.5 253V907M354.5 165V741M355.5 165V407M356.5 183V632M357.5 364V855M358.5 560V952M359.5 803V982M360.5 934V994M361.5 973V1005M362.5 986V1012M363.5 1000V1017M364.5 1002V1021M365.5 1004V1025M366.5 1010V1025M367.5 1013V1027M368.5 1017V1037M369.5 1019V1037M370.5 1019V1035M371.5 1020V1033M372.5 1024V1034M373.5 1025V1036M374.5 1025V1036M375.5 1026V1038M376.5 1022V1039M377.5 1022V1039M378.5 1024V1036M379.5 1024V1035M380.5 1024V1034M381.5 1025V1045M382.5 1025V1045M383.5 1025V1045M384.5 1031V1041M385.5 1029V1045M386.5 1028V1045M387.5 1023V1045M388.5 1023V1038M389.5 1026V1039M390.5 1027V1046M391.5 1027V1046M392.5 1027V1045M393.5 1027V1046M394.5 1032V1046M395.5 1030V1046M396.5 1030V1046M397.5 1030V1042M398.5 1030V1048M399.5 1033V1048M400.5 1033V1048M401.5 1033V1048M402.5 1034V1048M403.5 1033V1048M404.5 1033V1048M405.5 1033V1049M406.5 1036V1049M407.5 1036V1048M408.5 1031V1048M409.5 1031V1047M410.5 1037V1049M411.5 1041V1049M412.5 1039V1049M413.5 1037V1049M414.5 1037V1048M415.5 1040V1057M416.5 1040V1057M417.5 1039V1053M418.5 1039V1053M419.5 1040V1049M420.5 1040V1052M421.5 1038V1053M422.5 1038V1053M423.5 1038V1050M424.5 1043V1050M425.5 1041V1050M426.5 1041V1051M427.5 1041V1051M428.5 1041V1055M429.5 1041V1055M430.5 1042V1053M431.5 1039V1050M432.5 1039V1055M433.5 1038V1055M434.5 1038V1053M435.5 1042V1053M436.5 1042V1053M437.5 1041V1053M438.5 1041V1055M439.5 1044V1055M440.5 1044V1056M441.5 1043V1056M442.5 1041V1056M443.5 1041V1058M444.5 1041V1058M445.5 1043V1056M446.5 1043V1056M447.5 1045V1057M448.5 1043V1057M449.5 1043V1057M450.5 1046V1057M451.5 1046V1059M452.5 1045V1064M453.5 1045V1064M454.5 1043V1062M455.5 1043V1061M456.5 1045V1061M457.5 1045V1060M458.5 1050V1062M459.5 1052V1062M460.5 1046V1061M461.5 1046V1058M462.5 1051V1059M463.5 1052V1061M464.5 1052V1061M465.5 1049V1067M466.5 1049V1067M467.5 1047V1067M468.5 1047V1063M469.5 1047V1064M470.5 1049V1064M471.5 1048V1062M472.5 1048V1062M473.5 1051V1065M474.5 1051V1067M475.5 1056V1067M476.5 1055V1065M477.5 1055V1069M478.5 1055V1069M479.5 1055V1069M480.5 1055V1069M481.5 1055V1069M482.5 1058V1069M483.5 1060V1071M484.5 1055V1072M485.5 1055V1072M486.5 1056V1074M487.5 1058V1074M488.5 1058V1077M489.5 1058V1077M490.5 1060V1070M491.5 1057V1071M492.5 1057V1079M493.5 1061V1079M494.5 1060V1075M495.5 1060V1075M496.5 1060V1076M497.5 1060V1076M498.5 1064V1076M499.5 1061V1073M500.5 1061V1078M501.5 1064V1079M502.5 1064V1079M503.5 1065V1078M504.5 1065V1075M505.5 1066V1075M506.5 1066V1083M507.5 1066V1083M508.5 1067V1083M509.5 1067V1079M510.5 1067V1080M511.5 1068V1081M512.5 1068V1081M513.5 1068V1081M514.5 1067V1081M515.5 1067V1081M516.5 1069V1084M517.5 1062V1084M518.5 1062V1080M519.5 1065V1080M520.5 1069V1080M521.5 1069V1080M522.5 1069V1080M523.5 1072V1082M524.5 1074V1083M525.5 1072V1083M526.5 1070V1081M527.5 1070V1081M528.5 1073V1082M529.5 1073V1087M530.5 1073V1087M531.5 1074V1087M532.5 1073V1087M533.5 1073V1087M534.5 1069V1087M535.5 1069V1087M536.5 1069V1089M537.5 1076V1089M538.5 1078V1088M539.5 1078V1089M540.5 1073V1089M541.5 1073V1092M542.5 1078V1092M543.5 1078V1091M544.5 1079V1090M545.5 1078V1090M546.5 1076V1086M547.5 1072V1084M548.5 1072V1092M549.5 1077V1094M550.5 1079V1094M551.5 1079V1089M552.5 1079V1089M553.5 1079V1089M554.5 1078V1092M555.5 1078V1092M556.5 1078V1094M557.5 1081V1094M558.5 1079V1094M559.5 1079V1091M560.5 1083V1092M561.5 1084V1092M562.5 1084V1092M563.5 1084V1094M564.5 1084V1095M565.5 1075V1095M566.5 1075V1098M567.5 1081V1099M568.5 1083V1099M569.5 1083V1099M570.5 1085V1095M571.5 1085V1097M572.5 1085V1097M573.5 1084V1097M574.5 1083V1096M575.5 1083V1096M576.5 1083V1096M577.5 1083V1099M578.5 1084V1099M579.5 1081V1099M580.5 1081V1095M581.5 1081V1095M582.5 1086V1098M583.5 1086V1098M584.5 1080V1093M585.5 1080V1096M586.5 1081V1096M587.5 1081V1096M588.5 1076V1093M589.5 1064V1093M590.5 1042V1082M591.5 978V1073M592.5 810V1052M593.5 691V1002M594.5 691V871M595.5 691V849M596.5 776V911M597.5 839V1010M598.5 880V1059M599.5 980V1077M600.5 1052V1087M601.5 1072V1095M602.5 1078V1097M603.5 1087V1100M604.5 1091V1102M605.5 1093V1105M606.5 1089V1105M607.5 1089V1104M608.5 1094V1110M609.5 1094V1111M610.5 1096V1111M611.5 1096V1112M612.5 1096V1112M613.5 1100V1110M614.5 1100V1112M615.5 1101V1112M616.5 1102V1112M617.5 1101V1112M618.5 1101V1113M619.5 1100V1113M620.5 1100V1112M621.5 1103V1112M622.5 1103V1114M623.5 1103V1119M624.5 1103V1119M625.5 1104V1119M626.5 1104V1113M627.5 1106V1113M628.5 1106V1117M629.5 1106V1117M630.5 1106V1113M631.5 1104V1113M632.5 1104V1123M633.5 1105V1123M634.5 1105V1119M635.5 1104V1118M636.5 1104V1117M637.5 1105V1117M638.5 1105V1119M639.5 1106V1119M640.5 1108V1122M641.5 1106V1122M642.5 1106V1118M643.5 1106V1120M644.5 1109V1121M645.5 1109V1121M646.5 1110V1123M647.5 1108V1123M648.5 1108V1120M649.5 1108V1120M650.5 1109V1120M651.5 1109V1122M652.5 1109V1122M653.5 1110V1119M654.5 1111V1120M655.5 1111V1120M656.5 1111V1122M657.5 1109V1122M658.5 1109V1122M659.5 1109V1122M660.5 1110V1123M661.5 1110V1123M662.5 1111V1122M663.5 1111V1125M664.5 1114V1128M665.5 1112V1128M666.5 1110V1122M667.5 1110V1125M668.5 1114V1125M669.5 1112V1127M670.5 1112V1127M671.5 1112V1127M672.5 1114V1124M673.5 1113V1123M674.5 1113V1122M675.5 1113V1122M676.5 1110V1123M677.5 1105V1123M678.5 1088V1121M679.5 1062V1111M680.5 1062V1102M681.5 1062V1101M682.5 1088V1101M683.5 1088V1109M684.5 1091V1122M685.5 1103V1122M686.5 1112V1126M687.5 1112V1126M688.5 1112V1127M689.5 1114V1127M690.5 1116V1127M691.5 1113V1129M692.5 1113V1129M693.5 1118V1127M694.5 1116V1128M695.5 1116V1128M696.5 1115V1128M697.5 1115V1128M698.5 1114V1126M699.5 1114V1126M700.5 1114V1125M701.5 1114V1125M702.5 1114V1126M703.5 1116V1126M704.5 1117V1126M705.5 1116V1127M706.5 1113V1132M707.5 1113V1132M708.5 1117V1129M709.5 1115V1129M710.5 1115V1129M711.5 1115V1126M712.5 1118V1127M713.5 1118V1127M714.5 1117V1130M715.5 1116V1130M716.5 1116V1130M717.5 1116V1130M718.5 1116V1131M719.5 1112V1134M720.5 1112V1134M721.5 1112V1128M722.5 1117V1128M723.5 1116V1128M724.5 1116V1125M725.5 1119V1126M726.5 1119V1127M727.5 1112V1127M728.5 1112V1125M729.5 1112V1125M730.5 1109V1124M731.5 1107V1124M732.5 1106V1123M733.5 1087V1123M734.5 1022V1115M735.5 933V1097M736.5 919V1049M737.5 919V1015M738.5 939V1018M739.5 1003V1043M740.5 1007V1094M741.5 1024V1111M742.5 1071V1123M743.5 1104V1123M744.5 1108V1129M745.5 1114V1129M746.5 1114V1128M747.5 1120V1127M748.5 1116V1127M749.5 1116V1130M750.5 1118V1130M751.5 1117V1127M752.5 1117V1129M753.5 1120V1131M754.5 1121V1131M755.5 1119V1131M756.5 1119V1129M757.5 1118V1129M758.5 1118V1129M759.5 1118V1131M760.5 1118V1131M761.5 1119V1135M762.5 1118V1135M763.5 1118V1130M764.5 1118V1133M765.5 1119V1133M766.5 1119V1131M767.5 1119V1131M768.5 1122V1136M769.5 1123V1136M770.5 1123V1133M771.5 1122V1134M772.5 1122V1134M773.5 1122V1133M774.5 1115V1133M775.5 1115V1131M776.5 1121V1131M777.5 1121V1134M778.5 1124V1134M779.5 1122V1134M780.5 1122V1134M781.5 1122V1132M782.5 1121V1132M783.5 1121V1132M784.5 1121V1135M785.5 1122V1135M786.5 1123V1135M787.5 1123V1132M788.5 1123V1132M789.5 1123V1136M790.5 1120V1136M791.5 1120V1131M792.5 1122V1133M793.5 1122V1133M794.5 1121V1135M795.5 1121V1135M796.5 1124V1132M797.5 1125V1132M798.5 1125V1132M799.5 1123V1132M800.5 1123V1136M801.5 1120V1136M802.5 1117V1132M803.5 1117V1132M804.5 1121V1132M805.5 1121V1131M806.5 1123V1130M807.5 1123V1130M808.5 1121V1130M809.5 1121V1130M810.5 1120V1130M811.5 1117V1130M812.5 1102V1127M813.5 1069V1122M814.5 1049V1113M815.5 1049V1100M816.5 1054V1105M817.5 1083V1105M818.5 1083V1111M819.5 1085V1120M820.5 1106V1120M821.5 1109V1120M822.5 1105V1118M823.5 1104V1114M824.5 1104V1114M825.5 1098V1113M826.5 1096V1109M827.5 1094V1106M828.5 1094V1107M829.5 1099V1108M830.5 1099V1109M831.5 1100V1118M832.5 1103V1123M833.5 1112V1123M834.5 1113V1128M835.5 1113V1128M836.5 1117V1131M837.5 1119V1131M838.5 1119V1132M839.5 1119V1132M840.5 1121V1130M841.5 1122V1133M842.5 1122V1136M843.5 1123V1136M844.5 1124V1133M845.5 1126V1138M846.5 1127V1138M847.5 1126V1138M848.5 1124V1139M849.5 1124V1142M850.5 1128V1142M851.5 1123V1138M852.5 1123V1138M853.5 1123V1138M854.5 1123V1138M855.5 1127V1141M856.5 1127V1141M857.5 1126V1140M858.5 1126V1140M859.5 1126V1143M860.5 1130V1143M861.5 1131V1143M862.5 1131V1143M863.5 1131V1142M864.5 1131V1142M865.5 1131V1142M866.5 1131V1141M867.5 1129V1141M868.5 1129V1141M869.5 1129V1141M870.5 1129V1142M871.5 1124V1142M872.5 1124V1142M873.5 1132V1140M874.5 1132V1146M875.5 1130V1146M876.5 1130V1143M877.5 1130V1143M878.5 1130V1143M879.5 1131V1144M880.5 1130V1144M881.5 1130V1144M882.5 1132V1144M883.5 1130V1144M884.5 1130V1142M885.5 1130V1143M886.5 1132V1143M887.5 1131V1145M888.5 1131V1145M889.5 1132V1142M890.5 1132V1141M891.5 1131V1144M892.5 1131V1144M893.5 1133V1143M894.5 1133V1144M895.5 1129V1144M896.5 1129V1141M897.5 1132V1145M898.5 1132V1145M899.5 1132V1145M900.5 1131V1145M901.5 1131V1145M902.5 1131V1149M903.5 1131V1149M904.5 1133V1143M905.5 1133V1143M906.5 1132V1145M907.5 1132V1145M908.5 1133V1147M909.5 1132V1147M910.5 1132V1147M911.5 1133V1143M912.5 1133V1142M913.5 1133V1144M914.5 1129V1151M915.5 1129V1151M916.5 1133V1142M917.5 1133V1145M918.5 1133V1145M919.5 1137V1145M920.5 1137V1145M921.5 1137V1144M922.5 1137V1144M923.5 1135V1147M924.5 1135V1149M925.5 1135V1149M926.5 1135V1149M927.5 1133V1146M928.5 1132V1145M929.5 1132V1146M930.5 1136V1149M931.5 1137V1149M932.5 1136V1148M933.5 1136V1148M934.5 1134V1148M935.5 1134V1148M936.5 1134V1148M937.5 1134V1148M938.5 1134V1146M939.5 1136V1145M940.5 1137V1145M941.5 1137V1146M942.5 1138V1148M943.5 1138V1148M944.5 1136V1149M945.5 1136V1149M946.5 1138V1149M947.5 1138V1146M948.5 1140V1148M949.5 1139V1148M950.5 1139V1146M951.5 1137V1147M952.5 1137V1150M953.5 1138V1150M954.5 1139V1146M955.5 1137V1146M956.5 1137V1147M957.5 1139V1149M958.5 1139V1149M959.5 1136V1149M960.5 1136V1149M961.5 1137V1149M962.5 1138V1149M963.5 1138V1148M964.5 1138V1148M965.5 1139V1148M966.5 1137V1146M967.5 1135V1147M968.5 1135V1150M969.5 1137V1152M970.5 1137V1152M971.5 1133V1152M972.5 1133V1149M973.5 1141V1152M974.5 1141V1152M975.5 1136V1152M976.5 1136V1148M977.5 1138V1150M978.5 1139V1152M979.5 1139V1152M980.5 1141V1150M981.5 1141V1150M982.5 1134V1149M983.5 1134V1149M984.5 1134V1149M985.5 1135V1150M986.5 1135V1150M987.5 1139V1149M988.5 1142V1149M989.5 1141V1153M990.5 1141V1153M991.5 1138V1153M992.5 1138V1149M993.5 1137V1153M994.5 1137V1153M995.5 1137V1151M996.5 1141V1150M997.5 1141V1154M998.5 1140V1154M999.5 1140V1153M1000.5 1140V1153M1001.5 1141V1151M1002.5 1141V1150M1003.5 1142V1152M1004.5 1139V1152M1005.5 1139V1152M1006.5 1141V1151M1007.5 1141V1152M1008.5 1139V1152M1009.5 1139V1152M1010.5 1139V1152M1011.5 1137V1152M1012.5 1137V1149M1013.5 1137V1153M1014.5 1141V1156M1015.5 1140V1156M1016.5 1140V1156M1017.5 1135V1151M1018.5 1135V1149M1019.5 1135V1149M1020.5 1133V1149M1021.5 1133V1149M1022.5 1134V1148M1023.5 1134V1148M1024.5 1134V1146M1025.5 1140V1147M1026.5 1137V1147M1027.5 1131V1147M1028.5 1131V1145M1029.5 1130V1142M1030.5 1130V1143M1031.5 1131V1143M1032.5 1131V1144M1033.5 1136V1144M1034.5 1137V1144M1035.5 1137V1146M1036.5 1137V1146M1037.5 1135V1146M1038.5 1133V1147M1039.5 1133V1147M1040.5 1133V1148M1041.5 1134V1148M1042.5 1134V1148M1043.5 1134V1153M1044.5 1143V1153M1045.5 1141V1152M1046.5 1141V1151M1047.5 1143V1151M1048.5 1141V1151M1049.5 1141V1153M1050.5 1142V1153M1051.5 1138V1153M1052.5 1138V1149M1053.5 1138V1150M1054.5 1141V1150M1055.5 1143V1149M1056.5 1143V1152M1057.5 1141V1152M1058.5 1140V1151M1059.5 1140V1155M1060.5 1138V1155M1061.5 1138V1154M1062.5 1143V1150M1063.5 1143V1152M1064.5 1141V1152M1065.5 1141V1150M1066.5 1141V1155M1067.5 1141V1155M1068.5 1141V1151M1069.5 1141V1151M1070.5 1139V1150M1071.5 1139V1151M1072.5 1139V1156M1073.5 1142V1156M1074.5 1141V1152M1075.5 1141V1149M1076.5 1142V1149M1077.5 1142V1149M1078.5 1142V1149M1079.5 1140V1154M1080.5 1139V1154M1081.5 1134V1154M1082.5 1134V1147M1083.5 1134V1147M1084.5 1139V1147M1085.5 1139V1146M1086.5 1141V1149M1087.5 1137V1149M1088.5 1135V1150M1089.5 1135V1150M1090.5 1135V1144M1091.5 1132V1144M1092.5 1126V1140M1093.5 1124V1138M1094.5 1107V1133M1095.5 1084V1131M1096.5 1009V1115M1097.5 816V1100M1098.5 574V1041M1099.5 563V893M1100.5 563V947M1101.5 668V963M1102.5 835V963M1103.5 834V952M1104.5 834V1054M1105.5 886V1105M1106.5 1027V1124M1107.5 1093V1131M1108.5 1119V1136M1109.5 1126V1142M1110.5 1133V1145M1111.5 1135V1145M1112.5 1135V1145M1113.5 1135V1144M1114.5 1138V1146M1115.5 1138V1146M1116.5 1139V1148M1117.5 1139V1150M1118.5 1139V1150M1119.5 1141V1152M1120.5 1141V1152M1121.5 1142V1152M1122.5 1141V1150M1123.5 1140V1155M1124.5 1140V1155M1125.5 1141V1155M1126.5 1141V1154M1127.5 1140V1154M1128.5 1140V1153M1129.5 1142V1154M1130.5 1143V1154M1131.5 1142V1154M1132.5 1142V1153M1133.5 1145V1155M1134.5 1139V1155M1135.5 1139V1153M1136.5 1139V1153M1137.5 1142V1153M1138.5 1146V1159M1139.5 1141V1159M1140.5 1141V1159M1141.5 1141V1153M1142.5 1142V1155M1143.5 1142V1155M1144.5 1143V1153M1145.5 1144V1153M1146.5 1146V1155M1147.5 1146V1155M1148.5 1147V1155M1149.5 1146V1155M1150.5 1145V1152M1151.5 1143V1151M1152.5 1143V1156M1153.5 1142V1156M1154.5 1140V1156M1155.5 1140V1151M1156.5 1140V1151M1157.5 1139V1150M1158.5 1138V1150M1159.5 1136V1146M1160.5 1126V1145M1161.5 1078V1142M1162.5 999V1134M1163.5 974V1098M1164.5 974V1090M1165.5 986V1113M1166.5 1070V1113M1167.5 1053V1110M1168.5 1053V1113M1169.5 1057V1134M1170.5 1093V1144M1171.5 1130V1149M1172.5 1134V1149M1173.5 1142V1154M1174.5 1145V1154M1175.5 1143V1152M1176.5 1143V1153M1177.5 1143V1154M1178.5 1139V1155M1179.5 1139V1159M1180.5 1140V1159M1181.5 1144V1159M1182.5 1144V1157M1183.5 1147V1157M1184.5 1148V1154M1185.5 1144V1154M1186.5 1144V1153M1187.5 1145V1153M1188.5 1145V1154M1189.5 1146V1154M1190.5 1143V1158M1191.5 1143V1158M1192.5 1145V1158M1193.5 1145V1155M1194.5 1145V1155M1195.5 1147V1152M1196.5 1147V1153M1197.5 1145V1155M1198.5 1145V1158M1199.5 1145V1158M1200.5 1144V1159M1201.5 1144V1159M1202.5 1144V1159M1203.5 1144V1159M1204.5 1144V1159M1205.5 1146V1156M1206.5 1146V1160M1207.5 1148V1160M1208.5 1146V1158M1209.5 1145V1157M1210.5 1145V1159M1211.5 1145V1159M1212.5 1145V1159M1213.5 1145V1155M1214.5 1144V1155M1215.5 1144V1154M1216.5 1144V1154M1217.5 1144V1160M1218.5 1144V1160M1219.5 1144V1158M1220.5 1145V1158M1221.5 1145V1157M1222.5 1149V1156M1223.5 1147V1156M1224.5 1145V1154M1225.5 1145V1154M1226.5 1147V1154M1227.5 1150V1155M1228.5 1146V1158M1229.5 1144V1158M1230.5 1144V1156M1231.5 1145V1155M1232.5 1144V1158M1233.5 1144V1158M1234.5 1147V1158M1235.5 1146V1157M1236.5 1146V1158M1237.5 1146V1158M1238.5 1148V1158M1239.5 1146V1158M1240.5 1146V1159M1241.5 1148V1159M1242.5 1148V1159M1243.5 1147V1160M1244.5 1147V1160M1245.5 1144V1159M1246.5 1144V1159M1247.5 1146V1156M1248.5 1143V1160M1249.5 1143V1160M1250.5 1147V1160M1251.5 1147V1157M1252.5 1147V1157M1253.5 1146V1157M1254.5 1146V1158M1255.5 1149V1158M1256.5 1149V1158M1257.5 1146V1158M1258.5 1146V1158M1259.5 1146V1159M1260.5 1146V1159M1261.5 1145V1159M1262.5 1142V1156M1263.5 1142V1156M1264.5 1148V1156M1265.5 1148V1155M1266.5 1146V1155M1267.5 1146V1155M1268.5 1146V1158M1269.5 1148V1158M1270.5 1148V1157M1271.5 1146V1159M1272.5 1144V1159M1273.5 1144V1156M1274.5 1147V1157M1275.5 1147V1159M1276.5 1149V1159M1277.5 1149V1159M1278.5 1147V1157M1279.5 1147V1162M1280.5 1145V1162M1281.5 1145V1162M1282.5 1145V1157M1283.5 1145V1157M1284.5 1145V1159M1285.5 1147V1159M1286.5 1147V1157M1287.5 1144V1157M1288.5 1144V1157M1289.5 1144V1156M1290.5 1149V1158M1291.5 1147V1158M1292.5 1147V1158M1293.5 1148V1159M1294.5 1148V1159M1295.5 1149V1159M1296.5 1147V1158M1297.5 1147V1158M1298.5 1147V1157M1299.5 1146V1155M1300.5 1146V1161M1301.5 1146V1161M1302.5 1147V1161M1303.5 1145V1161M1304.5 1145V1160M1305.5 1147V1160M1306.5 1149V1160M1307.5 1149V1160M1308.5 1143V1161M1309.5 1143V1161M1310.5 1150V1161M1311.5 1149V1161M1312.5 1147V1161M1313.5 1147V1156M1314.5 1147V1160M1315.5 1149V1160M1316.5 1149V1158M1317.5 1148V1156M1318.5 1146V1157M1319.5 1146V1160M1320.5 1146V1160M1321.5 1147V1158M1322.5 1150V1159M1323.5 1150V1159M1324.5 1148V1155M1325.5 1146V1155M1326.5 1143V1155M1327.5 1143V1161M1328.5 1143V1161M1329.5 1142V1154M1330.5 1124V1154M1331.5 1084V1151M1332.5 1068V1132M1333.5 1068V1126M1334.5 1074V1138M1335.5 1116V1142M1336.5 1114V1142M1337.5 1109V1137M1338.5 1109V1140M1339.5 1115V1148M1340.5 1133V1156M1341.5 1143V1156M1342.5 1144V1156M1343.5 1144V1156M1344.5 1145V1157M1345.5 1149V1157M1346.5 1148V1157M1347.5 1148V1157M1348.5 1148V1157M1349.5 1151V1157M1350.5 1148V1157M1351.5 1148V1159M1352.5 1148V1159M1353.5 1148V1157M1354.5 1148V1160M1355.5 1147V1160M1356.5 1147V1161M1357.5 1147V1161M1358.5 1150V1158M1359.5 1149V1158M1360.5 1149V1158M1361.5 1149V1160M1362.5 1149V1160M1363.5 1146V1160M1364.5 1146V1157M1365.5 1144V1156M1366.5 1126V1152M1367.5 1090V1148M1368.5 1070V1136M1369.5 1070V1124M1370.5 1078V1143M1371.5 1115V1143M1372.5 1118V1143M1373.5 1107V1138M1374.5 1107V1145M1375.5 1115V1152M1376.5 1136V1155M1377.5 1144V1157M1378.5 1147V1157M1379.5 1148V1157M1380.5 1148V1158M1381.5 1150V1158M1382.5 1148V1156M1383.5 1148V1160M1384.5 1150V1160M1385.5 1151V1160M1386.5 1151V1158M1387.5 1149V1158M1388.5 1149V1158M1389.5 1149V1157M1390.5 1149V1157M1391.5 1149V1158M1392.5 1147V1158M1393.5 1147V1162M1394.5 1149V1162M1395.5 1152V1162M1396.5 1152V1161M1397.5 1150V1165M1398.5 1150V1165M1399.5 1150V1162M1400.5 1149V1162M1401.5 1149V1162M1402.5 1151V1165M1403.5 1150V1165M1404.5 1150V1165M1405.5 1151V1164M1406.5 1149V1163M1407.5 1149V1159M1408.5 1149V1159M1409.5 1150V1159M1410.5 1150V1159M1411.5 1153V1166M1412.5 1154V1166M1413.5 1151V1159M1414.5 1149V1159M1415.5 1149V1159M1416.5 1149V1161M1417.5 1152V1161M1418.5 1151V1161M1419.5 1151V1161M1420.5 1151V1160M1421.5 1151V1159M1422.5 1151V1160M1423.5 1151V1160M1424.5 1149V1159M1425.5 1149V1158M1426.5 1149V1160M1427.5 1151V1160M1428.5 1151V1160M1429.5 1151V1161M1430.5 1152V1161M1431.5 1148V1160M1432.5 1148V1160M1433.5 1148V1159M1434.5 1152V1165M1435.5 1152V1165M1436.5 1149V1161M1437.5 1149V1159M1438.5 1149V1162M1439.5 1149V1162M1440.5 1148V1161M1441.5 1148V1160M1442.5 1148V1161M1443.5 1150V1161M1444.5 1150V1161M1445.5 1150V1159M1446.5 1150V1163M1447.5 1153V1163M1448.5 1150V1161M1449.5 1150V1164M1450.5 1150V1164M1451.5 1150V1161M1452.5 1150V1159M1453.5 1150V1159M1454.5 1150V1162M1455.5 1152V1162M1456.5 1152V1162M1457.5 1152V1165M1458.5 1153V1165M1459.5 1150V1165M1460.5 1150V1160M1461.5 1150V1167M1462.5 1150V1167M1463.5 1154V1164M1464.5 1152V1164M1465.5 1152V1160M1466.5 1153V1163M1467.5 1151V1163M1468.5 1151V1163M1469.5 1151V1162M1470.5 1151V1162M1471.5 1152V1162M1472.5 1150V1161M1473.5 1150V1161M1474.5 1150V1161M1475.5 1151V1160M1476.5 1151V1163M1477.5 1153V1163M1478.5 1154V1163M1479.5 1151V1163M1480.5 1151V1164M1481.5 1154V1164M1482.5 1156V1164M1483.5 1150V1164M1484.5 1150V1163M1485.5 1150V1163M1486.5 1150V1163M1487.5 1150V1165M1488.5 1152V1165M1489.5 1149V1165M1490.5 1149V1164M1491.5 1149V1164M1492.5 1154V1164M1493.5 1154V1162M1494.5 1154V1162M1495.5 1152V1161M1496.5 1151V1166M1497.5 1151V1166M1498.5 1153V1163M1499.5 1152V1163M1500.5 1150V1164M1501.5 1144V1164M1502.5 1143V1160M1503.5 1129V1152M1504.5 1073V1147M1505.5 972V1136M1506.5 962V1095M1507.5 962V1105M1508.5 990V1134M1509.5 1087V1135M1510.5 1076V1135M1511.5 1059V1131M1512.5 1059V1118M1513.5 1062V1142M1514.5 1104V1152M1515.5 1135V1157M1516.5 1145V1157M1517.5 1147V1160M1518.5 1151V1161M1519.5 1151V1161M1520.5 1151V1160M1521.5 1151V1160M1522.5 1148V1160M1523.5 1148V1159M1524.5 1148V1159M1525.5 1136V1159M1526.5 1095V1156M1527.5 1058V1145M1528.5 1058V1115M1529.5 1058V1136M1530.5 1093V1151M1531.5 1133V1151M1532.5 1112V1151M1533.5 1106V1140M1534.5 1106V1146M1535.5 1107V1155M1536.5 1140V1160M1537.5 1144V1160M1538.5 1152V1162M1539.5 1154V1163M1540.5 1153V1163M1541.5 1153V1165M1542.5 1156V1165M1543.5 1156V1163M1544.5 1153V1163M1545.5 1153V1163M1546.5 1153V1167M1547.5 1156V1167M1548.5 1156V1167M1549.5 1155V1163M1550.5 1155V1167M1551.5 1155V1167M1552.5 1154V1165M1553.5 1154V1166M1554.5 1157V1169M1555.5 1155V1169M1556.5 1155V1169M1557.5 1155V1167M1558.5 1156V1167M1559.5 1156V1167M1560.5 1156V1166M1561.5 1156V1165M1562.5 1156V1165M1563.5 1155V1166M1564.5 1155V1169M1565.5 1158V1169M1566.5 1156V1169M1567.5 1156V1166M1568.5 1156V1166M1569.5 1158V1166M1570.5 1158V1168M1571.5 1158V1168M1572.5 1158V1169M1573.5 1158V1169M1574.5 1158V1166M1575.5 1158V1168M1576.5 1157V1168M1577.5 1156V1167M1578.5 1156V1166M1579.5 1160V1172M1580.5 1160V1172M1581.5 1154V1166M1582.5 1154V1164M1583.5 1157V1165M1584.5 1157V1165M1585.5 1157V1168M1586.5 1157V1168M1587.5 1158V1167M1588.5 1159V1166M1589.5 1160V1166M1590.5 1160V1167M1591.5 1159V1169M1592.5 1159V1169M1593.5 1159V1169M1594.5 1159V1169M1595.5 1158V1169M1596.5 1152V1169M1597.5 1152V1169M1598.5 1155V1167M1599.5 1149V1167M1600.5 1149V1161M1601.5 1150V1162M1602.5 1153V1164M1603.5 1157V1164M1604.5 1155V1164M1605.5 1153V1163M1606.5 1153V1163M1607.5 1153V1163M1608.5 1157V1169M1609.5 1156V1169M1610.5 1156V1169M1611.5 1156V1166M1612.5 1158V1168M1613.5 1158V1168M1614.5 1158V1168M1615.5 1156V1167M1616.5 1156V1167M1617.5 1158V1166M1618.5 1157V1166M1619.5 1157V1168M1620.5 1157V1168M1621.5 1159V1168M1622.5 1157V1167M1623.5 1157V1167M1624.5 1160V1166M1625.5 1157V1167M1626.5 1157V1169M1627.5 1161V1169M1628.5 1156V1168M1629.5 1156V1167M1630.5 1156V1167M1631.5 1159V1166M1632.5 1159V1169M1633.5 1160V1169M1634.5 1158V1169M1635.5 1158V1167M1636.5 1157V1169M1637.5 1157V1169M1638.5 1160V1169M1639.5 1159V1168M1640.5 1159V1169M1641.5 1159V1169M1642.5 1159V1168M1643.5 1160V1170M1644.5 1161V1170M1645.5 1161V1170M1646.5 1160V1169M1647.5 1159V1169M1648.5 1159V1169M1649.5 1159V1169M1650.5 1159V1170M1651.5 1159V1170M1652.5 1160V1169M1653.5 1160V1169M1654.5 1158V1167M1655.5 1158V1167M1656.5 1158V1172M1657.5 1159V1172M1658.5 1159V1172M1659.5 1159V1169M1660.5 1161V1169M1661.5 1154V1169M1662.5 1154V1168M1663.5 1154V1169M1664.5 1158V1169M1665.5 1158V1168M1666.5 1162V1168M1667.5 1159V1170M1668.5 1159V1170M1669.5 1159V1167M1670.5 1159V1170M1671.5 1159V1170M1672.5 1161V1169M1673.5 1162V1169M1674.5 1161V1167M1675.5 1161V1169M1676.5 1161V1169M1677.5 1156V1169M1678.5 1156V1168M1679.5 1157V1168M1680.5 1161V1168M1681.5 1158V1172M1682.5 1158V1172M1683.5 1158V1172M1684.5 1161V1170M1685.5 1159V1170M1686.5 1159V1170M1687.5 1158V1170M1688.5 1158V1168M1689.5 1158V1168M1690.5 1161V1170M1691.5 1160V1170M1692.5 1160V1170M1693.5 1157V1168M1694.5 1156V1166M1695.5 1156V1167M1696.5 1159V1167M1697.5 1158V1169M1698.5 1158V1169M1699.5 1159V1171M1700.5 1159V1171M1701.5 1159V1172M1702.5 1159V1172M1703.5 1159V1171M1704.5 1159V1170M1705.5 1159V1170M1706.5 1159V1167M1707.5 1161V1167M1708.5 1159V1171M1709.5 1157V1171M1710.5 1157V1165M1711.5 1154V1164M1712.5 1147V1163M1713.5 1133V1158M1714.5 1130V1152M1715.5 1130V1152M1716.5 1133V1160M1717.5 1146V1162M1718.5 1155V1162M1719.5 1146V1163M1720.5 1145V1163M1721.5 1145V1158M1722.5 1145V1168M1723.5 1151V1168M1724.5 1157V1168M1725.5 1158V1168M1726.5 1161V1168M1727.5 1157V1168M1728.5 1157V1170M1729.5 1157V1173M1730.5 1160V1173M1731.5 1160V1170M1732.5 1162V1170M1733.5 1159V1170M1734.5 1156V1170M1735.5 1156V1168M1736.5 1159V1167M1737.5 1160V1171M1738.5 1160V1172M1739.5 1160V1175M1740.5 1160V1175M1741.5 1162V1170M1742.5 1163V1171M1743.5 1161V1171M1744.5 1161V1170M1745.5 1161V1170M1746.5 1161V1170M1747.5 1161V1171M1748.5 1161V1174M1749.5 1161V1174M1750.5 1161V1172M1751.5 1161V1172M1752.5 1162V1172M1753.5 1162V1171M1754.5 1164V1172M1755.5 1161V1172M1756.5 1161V1171M1757.5 1163V1169M1758.5 1161V1169M1759.5 1161V1169M1760.5 1160V1171M1761.5 1160V1171M1762.5 1162V1173M1763.5 1159V1173M1764.5 1159V1171M1765.5 1159V1171M1766.5 1161V1171M1767.5 1161V1171M1768.5 1162V1169M1769.5 1162V1173M1770.5 1161V1173M1771.5 1161V1173M1772.5 1161V1171M1773.5 1161V1171M1774.5 1164V1171M1775.5 1163V1172M1776.5 1163V1172M1777.5 1162V1172M1778.5 1159V1172M1779.5 1159V1171M1780.5 1161V1171M1781.5 1161V1173M1782.5 1161V1173M1783.5 1161V1175M1784.5 1161V1175M1785.5 1164V1175M1786.5 1162V1172M1787.5 1161V1172M1788.5 1161V1174M1789.5 1162V1174M1790.5 1162V1174M1791.5 1163V1174M1792.5 1163V1174M1793.5 1163V1173M1794.5 1160V1171M1795.5 1160V1169M1796.5 1162V1169M1797.5 1162V1171M1798.5 1162V1171M1799.5 1163V1171M1800.5 1163V1171M1801.5 1161V1171M1802.5 1161V1171M1803.5 1157V1170M1804.5 1155V1167M1805.5 1155V1168M1806.5 1155V1168M1807.5 1156V1168M1808.5 1155V1166M1809.5 1152V1166M1810.5 1152V1164" stroke="#ff0000"/>
<path d="M150.5 1030V1041M151.5 1033V1046M152.5 1031V1046M153.5 1027V1046M154.5 1027V1041M155.5 1025V1042M156.5 1025V1042M157.5 1025V1038M158.5 1027V1038M159.5 1027V1039M160.5 1029V1039M161.5 1029V1039M162.5 1029V1039M163.5 1026V1039M164.5 1026V1041M165.5 1027V1041M166.5 1026V1041M167.5 1026V1042M168.5 1026V1047M169.5 1025V1047M170.5 1025V1041M171.5 1033V1041M172.5 1033V1040M173.5 1030V1042M174.5 1030V1046M175.5 1029V1046M176.5 1029V1046M177.5 1029V1037M178.5 1031V1037M179.5 1028V1038M180.5 1028V1040M181.5 1028V1040M182.5 1033V1040M183.5 1033V1042M184.5 1029V1042M185.5 1029V1042M186.5 1029V1043M187.5 1035V1043M188.5 1034V1047M189.5 1032V1047M190.5 1032V1041M191.5 1033V1041M192.5 1033V1047M193.5 1034V1048M194.5 1033V1050M195.5 1033V1050M196.5 1033V1049M197.5 1034V1049M198.5 1034V1049M199.5 1036V1049M200.5 1036V1050M201.5 1039V1050M202.5 1036V1050M203.5 1036V1050M204.5 1037V1052M205.5 1045V1052M206.5 1045V1051M207.5 1045V1051M208.5 1041V1049M209.5 1041V1052M210.5 1041V1052M211.5 1037V1052M212.5 1037V1055M213.5 1039V1061M214.5 1042V1062M215.5 1042V1062M216.5 1042V1057M217.5 1050V1058M218.5 1048V1058M219.5 1048V1057M220.5 1051V1057M221.5 1051V1056M222.5 1051V1058M223.5 1052V1059M224.5 1053V1059M225.5 1055V1065M226.5 1055V1068M227.5 1055V1068M228.5 1054V1066M229.5 1054V1059M230.5 1051V1059M231.5 1051V1062M232.5 1051V1066M233.5 1058V1068M234.5 1061V1070M235.5 1061V1070M236.5 1061V1070M237.5 1061V1069M238.5 1061V1066M239.5 1062V1073M240.5 1063V1073M241.5 1064V1073M242.5 1064V1076M243.5 1065V1079M244.5 1068V1079M245.5 1067V1074M246.5 1067V1076M247.5 1067V1076M248.5 1065V1075M249.5 1065V1073M250.5 1065V1082M251.5 1067V1084M252.5 1070V1084M253.5 1070V1084M254.5 1075V1099M255.5 1077V1099M256.5 1077V1099M257.5 1077V1089M258.5 1078V1093M259.5 1083V1093M260.5 1085V1099M261.5 1085V1101M262.5 1086V1101M263.5 1086V1097M264.5 1088V1095M265.5 1088V1093M266.5 1088V1094M267.5 1087V1095M268.5 1087V1101M269.5 1090V1101M270.5 1090V1101M271.5 1090V1098M272.5 1092V1101M273.5 1094V1105M274.5 1096V1105M275.5 1092V1105M276.5 1092V1105M277.5 1093V1107M278.5 1098V1108M279.5 1088V1108M280.5 1088V1107M281.5 1088V1105M282.5 1093V1105M283.5 1092V1104M284.5 1092V1113M285.5 1099V1113M286.5 1101V1113M287.5 1101V1113M288.5 1103V1113M289.5 1106V1118M290.5 1104V1118M291.5 1104V1121M292.5 1106V1121M293.5 1111V1120M294.5 1109V1116M295.5 1106V1113M296.5 1106V1119M297.5 1108V1120M298.5 1114V1120M299.5 1112V1119M300.5 1109V1117M301.5 1109V1116M302.5 1108V1119M303.5 1108V1120M304.5 1112V1123M305.5 1112V1123M306.5 1114V1127M307.5 1116V1128M308.5 1124V1128M309.5 1118V1128M310.5 1118V1127M311.5 1117V1123M312.5 1117V1132M313.5 1117V1132M314.5 1117V1136M315.5 1117V1136M316.5 1118V1136M317.5 1118V1131M318.5 1121V1131M319.5 1120V1131M320.5 1120V1136M321.5 1120V1136M322.5 1120V1133M323.5 1125V1133M324.5 1125V1130M325.5 1122V1129M326.5 1122V1130M327.5 1122V1131M328.5 1123V1131M329.5 1123V1138M330.5 1124V1139M331.5 1133V1139M332.5 1127V1138M333.5 1127V1135M334.5 1122V1132M335.5 1116V1132M336.5 1116V1132M337.5 1120V1136M338.5 1123V1136M339.5 1123V1136M340.5 1123V1136M341.5 1122V1135M342.5 1122V1134M343.5 1124V1134M344.5 1124V1134M345.5 1120V1130M346.5 1120V1129M347.5 1112V1127M348.5 1109V1126M349.5 1095V1118M350.5 1074V1115M351.5 1029V1099M352.5 883V1085M353.5 570V1043M354.5 387V928M355.5 387V646M356.5 398V732M357.5 516V948M358.5 681V1051M359.5 893V1097M360.5 1031V1112M361.5 1090V1116M362.5 1106V1117M363.5 1112V1130M364.5 1114V1141M365.5 1123V1141M366.5 1128V1144M367.5 1132V1144M368.5 1135V1144M369.5 1135V1148M370.5 1138V1148M371.5 1140V1147M372.5 1140V1146M373.5 1140V1148M374.5 1143V1153M375.5 1144V1153M376.5 1147V1154M377.5 1147V1161M378.5 1147V1161M379.5 1148V1161M380.5 1144V1151M381.5 1143V1151M382.5 1143V1155M383.5 1146V1155M384.5 1148V1158M385.5 1146V1158M386.5 1146V1157M387.5 1146V1158M388.5 1150V1158M389.5 1150V1163M390.5 1150V1164M391.5 1151V1164M392.5 1151V1164M393.5 1151V1164M394.5 1155V1164M395.5 1155V1162M396.5 1155V1167M397.5 1155V1167M398.5 1156V1167M399.5 1156V1167M400.5 1162V1169M401.5 1161V1169M402.5 1158V1167M403.5 1158V1165M404.5 1158V1163M405.5 1158V1166M406.5 1158V1170M407.5 1158V1170M408.5 1156V1170M409.5 1156V1166M410.5 1156V1169M411.5 1160V1169M412.5 1156V1167M413.5 1156V1168M414.5 1156V1169M415.5 1165V1169M416.5 1160V1169M417.5 1157V1169M418.5 1157V1165M419.5 1157V1170M420.5 1160V1170M421.5 1163V1170M422.5 1163V1171M423.5 1159V1171M424.5 1159V1171M425.5 1160V1170M426.5 1161V1171M427.5 1163V1172M428.5 1166V1172M429.5 1165V1172M430.5 1165V1175M431.5 1165V1175M432.5 1165V1174M433.5 1165V1172M434.5 1167V1174M435.5 1168V1174M436.5 1169V1174M437.5 1167V1173M438.5 1167V1176M439.5 1164V1176M440.5 1160V1176M441.5 1160V1173M442.5 1165V1173M443.5 1166V1173M444.5 1166V1173M445.5 1167V1174M446.5 1167V1175M447.5 1167V1179M448.5 1171V1179M449.5 1172V1179M450.5 1171V1178M451.5 1171V1179M452.5 1172V1179M453.5 1168V1178M454.5 1168V1180M455.5 1170V1180M456.5 1170V1180M457.5 1172V1180M458.5 1172V1180M459.5 1172V1179M460.5 1172V1181M461.5 1175V1181M462.5 1172V1181M463.5 1172V1180M464.5 1172V1180M465.5 1172V1180M466.5 1172V1180M467.5 1172V1181M468.5 1172V1182M469.5 1173V1182M470.5 1171V1185M471.5 1171V1185M472.5 1175V1185M473.5 1168V1181M474.5 1168V1181M475.5 1170V1181M476.5 1174V1181M477.5 1172V1181M478.5 1171V1177M479.5 1171V1181M480.5 1173V1182M481.5 1172V1182M482.5 1172V1182M483.5 1172V1184M484.5 1176V1185M485.5 1180V1185M486.5 1173V1185M487.5 1173V1186M488.5 1173V1186M489.5 1178V1186M490.5 1178V1183M491.5 1178V1182M492.5 1179V1182M493.5 1178V1184M494.5 1178V1187M495.5 1179V1187M496.5 1178V1187M497.5 1178V1183M498.5 1178V1187M499.5 1179V1190M500.5 1182V1192M501.5 1178V1192M502.5 1178V1192M503.5 1178V1182M504.5 1179V1186M505.5 1180V1192M506.5 1180V1192M507.5 1180V1192M508.5 1180V1194M509.5 1185V1195M510.5 1185V1195M511.5 1185V1192M512.5 1185V1192M513.5 1184V1192M514.5 1182V1189M515.5 1181V1188M516.5 1181V1192M517.5 1182V1193M518.5 1183V1193M519.5 1181V1192M520.5 1181V1193M521.5 1186V1194M522.5 1184V1194M523.5 1182V1194M524.5 1182V1188M525.5 1183V1195M526.5 1178V1195M527.5 1178V1195M528.5 1178V1188M529.5 1179V1190M530.5 1179V1192M531.5 1185V1193M532.5 1189V1193M533.5 1187V1193M534.5 1186V1194M535.5 1186V1194M536.5 1186V1191M537.5 1188V1192M538.5 1187V1192M539.5 1186V1192M540.5 1186V1191M541.5 1186V1191M542.5 1186V1192M543.5 1186V1194M544.5 1186V1198M545.5 1189V1198M546.5 1188V1198M547.5 1187V1194M548.5 1187V1192M549.5 1187V1194M550.5 1188V1194M551.5 1189V1194M552.5 1189V1194M553.5 1185V1194M554.5 1184V1193M555.5 1184V1189M556.5 1185V1193M557.5 1185V1196M558.5 1186V1196M559.5 1186V1194M560.5 1189V1198M561.5 1189V1201M562.5 1192V1201M563.5 1191V1201M564.5 1191V1197M565.5 1189V1197M566.5 1187V1197M567.5 1187V1196M568.5 1188V1199M569.5 1188V1199M570.5 1188V1197M571.5 1189V1197M572.5 1185V1196M573.5 1184V1192M574.5 1184V1193M575.5 1185V1195M576.5 1188V1195M577.5 1188V1195M578.5 1187V1199M579.5 1185V1202M580.5 1184V1202M581.5 1184V1196M582.5 1184V1196M583.5 1185V1195M584.5 1185V1195M585.5 1185V1195M586.5 1184V1195M587.5 1181V1195M588.5 1179V1187M589.5 1173V1185M590.5 1158V1185M591.5 1121V1178M592.5 1019V1165M593.5 901V1140M594.5 889V1054M595.5 889V1005M596.5 937V1036M597.5 1000V1110M598.5 1016V1157M599.5 1088V1174M600.5 1146V1180M601.5 1168V1184M602.5 1176V1194M603.5 1181V1198M604.5 1182V1198M605.5 1182V1194M606.5 1187V1194M607.5 1188V1195M608.5 1188V1200M609.5 1190V1200M610.5 1193V1200M611.5 1192V1200M612.5 1191V1199M613.5 1188V1199M614.5 1188V1203M615.5 1190V1203M616.5 1195V1203M617.5 1194V1199M618.5 1193V1198M619.5 1193V1200M620.5 1193V1200M621.5 1192V1200M622.5 1187V1200M623.5 1187V1204M624.5 1193V1205M625.5 1193V1205M626.5 1189V1205M627.5 1189V1197M628.5 1190V1207M629.5 1193V1207M630.5 1195V1207M631.5 1195V1204M632.5 1196V1204M633.5 1197V1204M634.5 1197V1208M635.5 1197V1208M636.5 1196V1208M637.5 1195V1203M638.5 1194V1203M639.5 1194V1200M640.5 1195V1199M641.5 1195V1200M642.5 1195V1201M643.5 1197V1201M644.5 1197V1207M645.5 1197V1207M646.5 1197V1207M647.5 1197V1201M648.5 1196V1201M649.5 1196V1211M650.5 1196V1211M651.5 1200V1211M652.5 1197V1207M653.5 1197V1205M654.5 1197V1202M655.5 1197V1202M656.5 1197V1208M657.5 1198V1210M658.5 1203V1210M659.5 1203V1209M660.5 1195V1209M661.5 1195V1212M662.5 1197V1212M663.5 1198V1211M664.5 1203V1211M665.5 1203V1213M666.5 1200V1213M667.5 1196V1212M668.5 1196V1205M669.5 1196V1209M670.5 1198V1209M671.5 1204V1209M672.5 1204V1209M673.5 1198V1209M674.5 1195V1209M675.5 1195V1204M676.5 1195V1206M677.5 1186V1206M678.5 1174V1203M679.5 1161V1192M680.5 1161V1183M681.5 1161V1187M682.5 1176V1187M683.5 1176V1199M684.5 1176V1209M685.5 1191V1209M686.5 1200V1210M687.5 1198V1210M688.5 1198V1206M689.5 1200V1205M690.5 1197V1205M691.5 1197V1210M692.5 1196V1210M693.5 1196V1208M694.5 1196V1208M695.5 1199V1208M696.5 1199V1208M697.5 1200V1209M698.5 1205V1209M699.5 1201V1209M700.5 1201V1209M701.5 1201V1214M702.5 1206V1214M703.5 1206V1214M704.5 1206V1211M705.5 1201V1210M706.5 1198V1210M707.5 1198V1206M708.5 1200V1208M709.5 1203V1208M710.5 1202V1208M711.5 1202V1207M712.5 1201V1206M713.5 1200V1206M714.5 1198V1204M715.5 1198V1206M716.5 1198V1206M717.5 1201V1206M718.5 1201V1206M719.5 1199V1206M720.5 1199V1206M721.5 1200V1206M722.5 1199V1207M723.5 1199V1207M724.5 1196V1206M725.5 1196V1211M726.5 1197V1211M727.5 1200V1210M728.5 1200V1211M729.5 1199V1211M730.5 1195V1211M731.5 1195V1203M732.5 1193V1201M733.5 1174V1199M734.5 1127V1196M735.5 1072V1185M736.5 1057V1144M737.5 1057V1127M738.5 1077V1131M739.5 1116V1149M740.5 1127V1183M741.5 1137V1192M742.5 1173V1206M743.5 1185V1209M744.5 1199V1209M745.5 1202V1209M746.5 1202V1209M747.5 1202V1207M748.5 1202V1207M749.5 1202V1207M750.5 1200V1207M751.5 1200V1214M752.5 1202V1216M753.5 1207V1216M754.5 1207V1216M755.5 1204V1215M756.5 1203V1215M757.5 1203V1210M758.5 1204V1211M759.5 1207V1212M760.5 1205V1212M761.5 1205V1213M762.5 1206V1214M763.5 1208V1214M764.5 1208V1212M765.5 1208V1213M766.5 1206V1213M767.5 1206V1215M768.5 1206V1215M769.5 1206V1215M770.5 1206V1212M771.5 1207V1213M772.5 1209V1213M773.5 1209V1213M774.5 1208V1213M775.5 1208V1212M776.5 1206V1212M777.5 1203V1211M778.5 1203V1214M779.5 1203V1215M780.5 1205V1215M781.5 1205V1213M782.5 1206V1213M783.5 1206V1214M784.5 1208V1214M785.5 1203V1214M786.5 1201V1211M787.5 1201V1211M788.5 1206V1215M789.5 1206V1215M790.5 1206V1215M791.5 1206V1215M792.5 1204V1215M793.5 1204V1215M794.5 1204V1213M795.5 1203V1213M796.5 1203V1209M797.5 1203V1213M798.5 1204V1213M799.5 1204V1213M800.5 1204V1213M801.5 1204V1214M802.5 1209V1214M803.5 1210V1213M804.5 1206V1212M805.5 1203V1212M806.5 1202V1212M807.5 1202V1212M808.5 1204V1212M809.5 1203V1208M810.5 1203V1209M811.5 1198V1209M812.5 1186V1209M813.5 1159V1203M814.5 1146V1195M815.5 1146V1182M816.5 1152V1185M817.5 1167V1185M818.5 1167V1186M819.5 1167V1193M820.5 1180V1195M821.5 1181V1195M822.5 1177V1195M823.5 1177V1187M824.5 1167V1183M825.5 1164V1182M826.5 1163V1178M827.5 1163V1178M828.5 1162V1169M829.5 1162V1174M830.5 1163V1176M831.5 1170V1182M832.5 1171V1190M833.5 1177V1195M834.5 1185V1198M835.5 1193V1200M836.5 1195V1202M837.5 1197V1203M838.5 1198V1203M839.5 1195V1203M840.5 1195V1207M841.5 1196V1208M842.5 1202V1208M843.5 1203V1208M844.5 1202V1207M845.5 1201V1212M846.5 1200V1212M847.5 1200V1214M848.5 1200V1214M849.5 1205V1218M850.5 1206V1218M851.5 1206V1215M852.5 1205V1210M853.5 1205V1215M854.5 1205V1215M855.5 1204V1214M856.5 1204V1212M857.5 1202V1212M858.5 1202V1212M859.5 1202V1215M860.5 1201V1215M861.5 1201V1214M862.5 1206V1214M863.5 1208V1216M864.5 1208V1216M865.5 1203V1215M866.5 1203V1214M867.5 1203V1211M868.5 1206V1214M869.5 1207V1214M870.5 1204V1213M871.5 1204V1211M872.5 1204V1212M873.5 1200V1212M874.5 1200V1212M875.5 1203V1213M876.5 1208V1213M877.5 1207V1212M878.5 1207V1215M879.5 1207V1215M880.5 1207V1216M881.5 1203V1216M882.5 1203V1214M883.5 1203V1214M884.5 1209V1215M885.5 1209V1215M886.5 1209V1216M887.5 1209V1218M888.5 1204V1218M889.5 1204V1217M890.5 1205V1218M891.5 1207V1218M892.5 1207V1219M893.5 1207V1219M894.5 1209V1219M895.5 1209V1217M896.5 1210V1215M897.5 1210V1216M898.5 1209V1216M899.5 1209V1215M900.5 1204V1213M901.5 1204V1215M902.5 1204V1216M903.5 1211V1216M904.5 1211V1215M905.5 1208V1216M906.5 1207V1216M907.5 1207V1215M908.5 1207V1217M909.5 1207V1219M910.5 1206V1219M911.5 1206V1213M912.5 1207V1221M913.5 1207V1221M914.5 1203V1219M915.5 1203V1216M916.5 1203V1216M917.5 1207V1216M918.5 1209V1216M919.5 1209V1216M920.5 1211V1216M921.5 1211V1215M922.5 1210V1216M923.5 1210V1219M924.5 1211V1219M925.5 1209V1218M926.5 1205V1215M927.5 1205V1215M928.5 1205V1218M929.5 1207V1218M930.5 1207V1220M931.5 1209V1220M932.5 1213V1220M933.5 1211V1218M934.5 1211V1215M935.5 1211V1215M936.5 1212V1219M937.5 1211V1219M938.5 1209V1219M939.5 1209V1219M940.5 1213V1219M941.5 1215V1219M942.5 1214V1219M943.5 1213V1219M944.5 1213V1219M945.5 1211V1219M946.5 1211V1219M947.5 1211V1216M948.5 1212V1217M949.5 1208V1217M950.5 1208V1219M951.5 1208V1219M952.5 1209V1219M953.5 1209V1215M954.5 1209V1215M955.5 1205V1215M956.5 1205V1214M957.5 1205V1211M958.5 1207V1215M959.5 1208V1215M960.5 1210V1222M961.5 1210V1222M962.5 1215V1222M963.5 1209V1220M964.5 1208V1219M965.5 1208V1217M966.5 1208V1217M967.5 1208V1216M968.5 1210V1217M969.5 1212V1217M970.5 1212V1219M971.5 1212V1219M972.5 1212V1219M973.5 1211V1218M974.5 1211V1220M975.5 1211V1225M976.5 1212V1225M977.5 1212V1225M978.5 1206V1216M979.5 1205V1218M980.5 1205V1218M981.5 1213V1218M982.5 1211V1218M983.5 1211V1220M984.5 1210V1221M985.5 1210V1221M986.5 1210V1219M987.5 1212V1219M988.5 1212V1218M989.5 1207V1217M990.5 1207V1217M991.5 1207V1215M992.5 1209V1215M993.5 1209V1219M994.5 1210V1224M995.5 1210V1224M996.5 1210V1224M997.5 1210V1217M998.5 1212V1217M999.5 1212V1218M1000.5 1212V1218M1001.5 1209V1218M1002.5 1209V1221M1003.5 1211V1221M1004.5 1211V1219M1005.5 1211V1220M1006.5 1209V1220M1007.5 1209V1220M1008.5 1210V1216M1009.5 1210V1216M1010.5 1210V1218M1011.5 1212V1219M1012.5 1211V1219M1013.5 1211V1218M1014.5 1211V1217M1015.5 1209V1217M1016.5 1209V1217M1017.5 1209V1217M1018.5 1208V1217M1019.5 1208V1217M1020.5 1207V1217M1021.5 1207V1215M1022.5 1206V1214M1023.5 1204V1212M1024.5 1204V1212M1025.5 1204V1212M1026.5 1202V1212M1027.5 1199V1209M1028.5 1197V1207M1029.5 1197V1204M1030.5 1197V1203M1031.5 1199V1204M1032.5 1197V1207M1033.5 1197V1209M1034.5 1198V1211M1035.5 1198V1211M1036.5 1205V1212M1037.5 1203V1212M1038.5 1203V1213M1039.5 1206V1219M1040.5 1210V1219M1041.5 1211V1219M1042.5 1212V1219M1043.5 1212V1218M1044.5 1212V1218M1045.5 1212V1218M1046.5 1208V1218M1047.5 1207V1217M1048.5 1207V1223M1049.5 1211V1223M1050.5 1214V1223M1051.5 1214V1221M1052.5 1214V1218M1053.5 1214V1221M1054.5 1210V1221M1055.5 1209V1221M1056.5 1207V1212M1057.5 1207V1219M1058.5 1209V1220M1059.5 1209V1220M1060.5 1209V1217M1061.5 1209V1218M1062.5 1212V1220M1063.5 1214V1220M1064.5 1215V1221M1065.5 1215V1221M1066.5 1213V1221M1067.5 1211V1220M1068.5 1211V1218M1069.5 1211V1223M1070.5 1210V1223M1071.5 1210V1223M1072.5 1211V1218M1073.5 1210V1218M1074.5 1210V1223M1075.5 1210V1223M1076.5 1213V1223M1077.5 1213V1218M1078.5 1209V1218M1079.5 1208V1217M1080.5 1208V1215M1081.5 1208V1215M1082.5 1209V1216M1083.5 1209V1224M1084.5 1209V1224M1085.5 1214V1224M1086.5 1211V1222M1087.5 1210V1219M1088.5 1210V1214M1089.5 1210V1214M1090.5 1206V1214M1091.5 1204V1214M1092.5 1203V1209M1093.5 1201V1207M1094.5 1186V1206M1095.5 1169V1206M1096.5 1112V1191M1097.5 964V1178M1098.5 862V1133M1099.5 862V1008M1100.5 862V1090M1101.5 968V1101M1102.5 1026V1101M1103.5 1026V1107M1104.5 1026V1173M1105.5 1085V1198M1106.5 1163V1204M1107.5 1190V1208M1108.5 1202V1208M1109.5 1205V1214M1110.5 1205V1218M1111.5 1210V1219M1112.5 1208V1223M1113.5 1208V1223M1114.5 1214V1223M1115.5 1214V1219M1116.5 1212V1219M1117.5 1211V1218M1118.5 1211V1218M1119.5 1213V1224M1120.5 1210V1224M1121.5 1207V1223M1122.5 1207V1222M1123.5 1214V1222M1124.5 1209V1220M1125.5 1209V1228M1126.5 1212V1228M1127.5 1214V1224M1128.5 1214V1219M1129.5 1214V1219M1130.5 1215V1220M1131.5 1216V1220M1132.5 1216V1222M1133.5 1213V1222M1134.5 1213V1222M1135.5 1213V1222M1136.5 1216V1221M1137.5 1216V1221M1138.5 1216V1221M1139.5 1214V1220M1140.5 1212V1219M1141.5 1211V1217M1142.5 1211V1217M1143.5 1212V1221M1144.5 1214V1221M1145.5 1214V1221M1146.5 1211V1219M1147.5 1211V1220M1148.5 1211V1226M1149.5 1212V1226M1150.5 1212V1226M1151.5 1212V1223M1152.5 1212V1219M1153.5 1212V1217M1154.5 1213V1220M1155.5 1213V1220M1156.5 1213V1220M1157.5 1213V1219M1158.5 1213V1221M1159.5 1209V1221M1160.5 1201V1221M1161.5 1183V1213M1162.5 1131V1206M1163.5 1106V1191M1164.5 1106V1166M1165.5 1106V1187M1166.5 1149V1188M1167.5 1158V1188M1168.5 1158V1187M1169.5 1158V1204M1170.5 1176V1220M1171.5 1200V1223M1172.5 1209V1223M1173.5 1209V1221M1174.5 1212V1221M1175.5 1212V1223M1176.5 1214V1223M1177.5 1212V1223M1178.5 1212V1222M1179.5 1212V1221M1180.5 1215V1222M1181.5 1216V1222M1182.5 1211V1222M1183.5 1211V1220M1184.5 1211V1220M1185.5 1213V1220M1186.5 1212V1221M1187.5 1212V1224M1188.5 1215V1224M1189.5 1215V1224M1190.5 1215V1222M1191.5 1216V1223M1192.5 1216V1223M1193.5 1215V1220M1194.5 1213V1221M1195.5 1213V1225M1196.5 1216V1225M1197.5 1218V1225M1198.5 1218V1221M1199.5 1216V1221M1200.5 1215V1222M1201.5 1215V1222M1202.5 1218V1223M1203.5 1214V1223M1204.5 1214V1223M1205.5 1213V1225M1206.5 1213V1226M1207.5 1213V1226M1208.5 1213V1225M1209.5 1212V1225M1210.5 1212V1223M1211.5 1212V1223M1212.5 1212V1223M1213.5 1215V1223M1214.5 1215V1220M1215.5 1215V1222M1216.5 1217V1223M1217.5 1218V1223M1218.5 1216V1223M1219.5 1216V1224M1220.5 1217V1225M1221.5 1219V1225M1222.5 1218V1223M1223.5 1217V1222M1224.5 1217V1221M1225.5 1217V1229M1226.5 1217V1229M1227.5 1215V1229M1228.5 1215V1222M1229.5 1215V1222M1230.5 1216V1223M1231.5 1216V1223M1232.5 1216V1223M1233.5 1216V1225M1234.5 1216V1227M1235.5 1219V1227M1236.5 1219V1226M1237.5 1218V1223M1238.5 1218V1223M1239.5 1218V1223M1240.5 1218V1222M1241.5 1218V1222M1242.5 1212V1221M1243.5 1212V1221M1244.5 1212V1221M1245.5 1216V1222M1246.5 1214V1222M1247.5 1214V1222M1248.5 1214V1221M1249.5 1216V1223M1250.5 1218V1224M1251.5 1213V1224M1252.5 1213V1222M1253.5 1213V1222M1254.5 1218V1223M1255.5 1218V1224M1256.5 1217V1224M1257.5 1213V1222M1258.5 1213V1222M1259.5 1213V1223M1260.5 1214V1223M1261.5 1214V1223M1262.5 1214V1220M1263.5 1214V1222M1264.5 1216V1224M1265.5 1216V1228M1266.5 1214V1228M1267.5 1214V1228M1268.5 1214V1227M1269.5 1211V1227M1270.5 1211V1222M1271.5 1212V1221M1272.5 1215V1221M1273.5 1215V1222M1274.5 1216V1223M1275.5 1211V1223M1276.5 1211V1220M1277.5 1211V1224M1278.5 1217V1225M1279.5 1210V1225M1280.5 1209V1225M1281.5 1209V1220M1282.5 1213V1220M1283.5 1215V1222M1284.5 1216V1223M1285.5 1220V1225M1286.5 1216V1225M1287.5 1216V1226M1288.5 1214V1226M1289.5 1214V1224M1290.5 1214V1218M1291.5 1215V1224M1292.5 1215V1226M1293.5 1213V1226M1294.5 1213V1225M1295.5 1216V1225M1296.5 1212V1225M1297.5 1212V1223M1298.5 1212V1224M1299.5 1212V1224M1300.5 1212V1224M1301.5 1215V1224M1302.5 1220V1225M1303.5 1216V1225M1304.5 1214V1225M1305.5 1214V1224M1306.5 1214V1224M1307.5 1217V1224M1308.5 1210V1223M1309.5 1208V1222M1310.5 1208V1221M1311.5 1214V1221M1312.5 1216V1221M1313.5 1216V1221M1314.5 1216V1224M1315.5 1218V1224M1316.5 1216V1224M1317.5 1213V1222M1318.5 1213V1221M1319.5 1215V1221M1320.5 1215V1220M1321.5 1215V1225M1322.5 1215V1225M1323.5 1213V1225M1324.5 1213V1223M1325.5 1217V1226M1326.5 1214V1226M1327.5 1214V1226M1328.5 1214V1222M1329.5 1213V1220M1330.5 1204V1216M1331.5 1180V1216M1332.5 1167V1211M1333.5 1167V1204M1334.5 1175V1211M1335.5 1198V1211M1336.5 1197V1211M1337.5 1197V1208M1338.5 1198V1215M1339.5 1202V1216M1340.5 1211V1221M1341.5 1212V1221M1342.5 1214V1222M1343.5 1213V1222M1344.5 1212V1221M1345.5 1212V1221M1346.5 1217V1221M1347.5 1214V1221M1348.5 1214V1223M1349.5 1214V1224M1350.5 1217V1226M1351.5 1217V1226M1352.5 1214V1226M1353.5 1209V1224M1354.5 1208V1220M1355.5 1208V1220M1356.5 1215V1221M1357.5 1215V1221M1358.5 1215V1220M1359.5 1215V1218M1360.5 1215V1224M1361.5 1215V1224M1362.5 1219V1226M1363.5 1215V1226M1364.5 1213V1224M1365.5 1212V1220M1366.5 1194V1220M1367.5 1177V1220M1368.5 1172V1199M1369.5 1172V1211M1370.5 1177V1213M1371.5 1203V1213M1372.5 1195V1213M1373.5 1194V1208M1374.5 1194V1218M1375.5 1200V1220M1376.5 1213V1227M1377.5 1214V1227M1378.5 1215V1225M1379.5 1215V1223M1380.5 1215V1223M1381.5 1216V1225M1382.5 1216V1225M1383.5 1213V1225M1384.5 1213V1223M1385.5 1213V1221M1386.5 1216V1223M1387.5 1213V1223M1388.5 1213V1223M1389.5 1217V1223M1390.5 1218V1223M1391.5 1217V1222M1392.5 1216V1224M1393.5 1214V1224M1394.5 1214V1229M1395.5 1215V1229M1396.5 1216V1229M1397.5 1215V1221M1398.5 1215V1222M1399.5 1214V1222M1400.5 1214V1222M1401.5 1214V1224M1402.5 1214V1226M1403.5 1217V1230M1404.5 1217V1230M1405.5 1219V1230M1406.5 1217V1225M1407.5 1217V1229M1408.5 1214V1231M1409.5 1214V1231M1410.5 1214V1227M1411.5 1220V1227M1412.5 1218V1226M1413.5 1217V1224M1414.5 1213V1224M1415.5 1213V1227M1416.5 1213V1227M1417.5 1212V1226M1418.5 1212V1221M1419.5 1215V1221M1420.5 1213V1221M1421.5 1213V1222M1422.5 1214V1224M1423.5 1218V1225M1424.5 1218V1225M1425.5 1215V1225M1426.5 1215V1222M1427.5 1216V1222M1428.5 1218V1222M1429.5 1219V1223M1430.5 1220V1224M1431.5 1218V1224M1432.5 1216V1224M1433.5 1216V1225M1434.5 1218V1225M1435.5 1218V1224M1436.5 1218V1222M1437.5 1213V1222M1438.5 1213V1222M1439.5 1213V1224M1440.5 1213V1224M1441.5 1218V1226M1442.5 1219V1226M1443.5 1220V1228M1444.5 1216V1228M1445.5 1216V1228M1446.5 1215V1222M1447.5 1215V1225M1448.5 1217V1225M1449.5 1219V1225M1450.5 1216V1223M1451.5 1216V1223M1452.5 1217V1223M1453.5 1217V1222M1454.5 1217V1225M1455.5 1217V1225M1456.5 1221V1225M1457.5 1221V1226M1458.5 1219V1226M1459.5 1217V1226M1460.5 1217V1224M1461.5 1217V1227M1462.5 1216V1227M1463.5 1216V1225M1464.5 1216V1226M1465.5 1216V1226M1466.5 1219V1228M1467.5 1219V1228M1468.5 1218V1227M1469.5 1216V1223M1470.5 1216V1224M1471.5 1215V1224M1472.5 1215V1223M1473.5 1218V1227M1474.5 1217V1227M1475.5 1217V1227M1476.5 1217V1223M1477.5 1216V1224M1478.5 1216V1224M1479.5 1217V1224M1480.5 1217V1221M1481.5 1215V1221M1482.5 1215V1223M1483.5 1215V1223M1484.5 1217V1223M1485.5 1217V1226M1486.5 1218V1226M1487.5 1213V1227M1488.5 1213V1227M1489.5 1213V1226M1490.5 1219V1227M1491.5 1218V1227M1492.5 1217V1225M1493.5 1217V1223M1494.5 1214V1223M1495.5 1214V1223M1496.5 1214V1227M1497.5 1215V1229M1498.5 1214V1229M1499.5 1208V1224M1500.5 1208V1219M1501.5 1209V1219M1502.5 1211V1218M1503.5 1199V1217M1504.5 1168V1215M1505.5 1125V1207M1506.5 1114V1182M1507.5 1114V1192M1508.5 1134V1206M1509.5 1180V1206M1510.5 1177V1206M1511.5 1169V1202M1512.5 1169V1197M1513.5 1170V1215M1514.5 1189V1221M1515.5 1209V1221M1516.5 1217V1221M1517.5 1215V1220M1518.5 1213V1220M1519.5 1211V1218M1520.5 1211V1221M1521.5 1212V1222M1522.5 1211V1222M1523.5 1211V1222M1524.5 1211V1219M1525.5 1208V1219M1526.5 1187V1218M1527.5 1161V1212M1528.5 1161V1197M1529.5 1161V1209M1530.5 1187V1214M1531.5 1204V1215M1532.5 1190V1215M1533.5 1190V1210M1534.5 1190V1214M1535.5 1197V1219M1536.5 1210V1219M1537.5 1213V1221M1538.5 1213V1226M1539.5 1217V1226M1540.5 1219V1226M1541.5 1218V1222M1542.5 1218V1222M1543.5 1218V1222M1544.5 1217V1222M1545.5 1217V1222M1546.5 1218V1222M1547.5 1219V1230M1548.5 1217V1230M1549.5 1215V1230M1550.5 1215V1221M1551.5 1214V1228M1552.5 1214V1228M1553.5 1217V1228M1554.5 1217V1224M1555.5 1219V1225M1556.5 1218V1225M1557.5 1218V1223M1558.5 1219V1223M1559.5 1219V1224M1560.5 1218V1226M1561.5 1218V1227M1562.5 1219V1227M1563.5 1218V1225M1564.5 1218V1225M1565.5 1217V1224M1566.5 1217V1225M1567.5 1217V1225M1568.5 1216V1224M1569.5 1216V1230M1570.5 1218V1230M1571.5 1222V1228M1572.5 1222V1227M1573.5 1222V1227M1574.5 1220V1227M1575.5 1220V1228M1576.5 1217V1229M1577.5 1217V1229M1578.5 1217V1224M1579.5 1218V1228M1580.5 1219V1228M1581.5 1219V1226M1582.5 1218V1223M1583.5 1218V1223M1584.5 1218V1224M1585.5 1218V1226M1586.5 1218V1227M1587.5 1218V1227M1588.5 1222V1227M1589.5 1222V1227M1590.5 1222V1227M1591.5 1218V1227M1592.5 1218V1225M1593.5 1218V1225M1594.5 1220V1226M1595.5 1220V1226M1596.5 1220V1229M1597.5 1220V1229M1598.5 1220V1229M1599.5 1218V1225M1600.5 1218V1224M1601.5 1217V1222M1602.5 1217V1223M1603.5 1217V1224M1604.5 1218V1224M1605.5 1218V1226M1606.5 1215V1226M1607.5 1215V1226M1608.5 1215V1228M1609.5 1220V1228M1610.5 1223V1229M1611.5 1223V1229M1612.5 1222V1229M1613.5 1217V1228M1614.5 1216V1226M1615.5 1216V1227M1616.5 1217V1227M1617.5 1218V1227M1618.5 1218V1227M1619.5 1219V1227M1620.5 1216V1225M1621.5 1216V1224M1622.5 1216V1221M1623.5 1216V1221M1624.5 1215V1221M1625.5 1215V1226M1626.5 1216V1226M1627.5 1221V1226M1628.5 1218V1226M1629.5 1218V1229M1630.5 1218V1229M1631.5 1218V1225M1632.5 1219V1224M1633.5 1219V1226M1634.5 1219V1228M1635.5 1219V1228M1636.5 1219V1227M1637.5 1219V1227M1638.5 1219V1227M1639.5 1219V1225M1640.5 1214V1225M1641.5 1214V1225M1642.5 1214V1225M1643.5 1217V1225M1644.5 1217V1221M1645.5 1215V1219M1646.5 1215V1226M1647.5 1215V1227M1648.5 1220V1227M1649.5 1220V1227M1650.5 1220V1227M1651.5 1221V1227M1652.5 1222V1229M1653.5 1222V1229M1654.5 1217V1228M1655.5 1216V1228M1656.5 1216V1224M1657.5 1217V1224M1658.5 1217V1224M1659.5 1216V1222M1660.5 1216V1223M1661.5 1216V1223M1662.5 1220V1226M1663.5 1219V1226M1664.5 1219V1225M1665.5 1220V1226M1666.5 1219V1226M1667.5 1219V1226M1668.5 1217V1229M1669.5 1213V1229M1670.5 1213V1225M1671.5 1219V1225M1672.5 1215V1225M1673.5 1215V1223M1674.5 1216V1223M1675.5 1218V1222M1676.5 1217V1222M1677.5 1217V1223M1678.5 1216V1224M1679.5 1216V1226M1680.5 1219V1226M1681.5 1219V1224M1682.5 1219V1226M1683.5 1220V1226M1684.5 1220V1232M1685.5 1222V1232M1686.5 1222V1232M1687.5 1219V1225M1688.5 1219V1225M1689.5 1219V1229M1690.5 1219V1229M1691.5 1219V1229M1692.5 1219V1225M1693.5 1218V1225M1694.5 1217V1223M1695.5 1217V1227M1696.5 1217V1227M1697.5 1220V1227M1698.5 1219V1226M1699.5 1216V1223M1700.5 1216V1223M1701.5 1216V1227M1702.5 1216V1227M1703.5 1216V1229M1704.5 1219V1229M1705.5 1218V1226M1706.5 1213V1226M1707.5 1212V1222M1708.5 1212V1223M1709.5 1211V1223M1710.5 1211V1223M1711.5 1211V1223M1712.5 1212V1225M1713.5 1210V1225M1714.5 1210V1221M1715.5 1210V1218M1716.5 1210V1218M1717.5 1210V1218M1718.5 1211V1218M1719.5 1211V1218M1720.5 1211V1218M1721.5 1211V1220M1722.5 1212V1223M1723.5 1216V1225M1724.5 1218V1225M1725.5 1218V1227M1726.5 1218V1227M1727.5 1219V1227M1728.5 1219V1227M1729.5 1220V1227M1730.5 1218V1227M1731.5 1218V1224M1732.5 1217V1224M1733.5 1216V1224M1734.5 1216V1222M1735.5 1218V1223M1736.5 1220V1225M1737.5 1220V1227M1738.5 1217V1227M1739.5 1217V1225M1740.5 1212V1225M1741.5 1212V1227M1742.5 1212V1230M1743.5 1221V1232M1744.5 1218V1232M1745.5 1218V1228M1746.5 1218V1223M1747.5 1217V1224M1748.5 1215V1224M1749.5 1215V1224M1750.5 1219V1224M1751.5 1220V1225M1752.5 1220V1228M1753.5 1221V1230M1754.5 1222V1230M1755.5 1218V1226M1756.5 1218V1225M1757.5 1218V1228M1758.5 1216V1228M1759.5 1216V1225M1760.5 1216V1220M1761.5 1216V1220M1762.5 1217V1225M1763.5 1217V1227M1764.5 1220V1227M1765.5 1220V1230M1766.5 1218V1230M1767.5 1215V1230M1768.5 1215V1227M1769.5 1215V1227M1770.5 1214V1227M1771.5 1214V1227M1772.5 1214V1227M1773.5 1211V1227M1774.5 1211V1225M1775.5 1215V1225M1776.5 1217V1225M1777.5 1217V1225M1778.5 1218V1225M1779.5 1218V1225M1780.5 1218V1227M1781.5 1219V1228M1782.5 1219V1232M1783.5 1222V1232M1784.5 1216V1228M1785.5 1216V1225M1786.5 1216V1224M1787.5 1217V1226M1788.5 1217V1227M1789.5 1217V1227M1790.5 1218V1227M1791.5 1218V1226M1792.5 1219V1228M1793.5 1213V1228M1794.5 1213V1224M1795.5 1213V1225M1796.5 1218V1226M1797.5 1222V1231M1798.5 1222V1232M1799.5 1222V1232M1800.5 1222V1228M1801.5 1222V1228M1802.5 1222V1228M1803.5 1222V1226M1804.5 1221V1226M1805.5 1219V1226M1806.5 1217V1224M1807.5 1217V1223M1808.5 1217V1225M1809.5 1217V1225M1810.5 1217V1225" stroke="#0000ff"/>
</g>
<g fill="none" stroke-width="1" shape-rendering="crispEdges">
<path d="M1246.5 243V262M1247.5 230V262M1248.5 230V265M1249.5 228V265M1250.5 225V269M1251.5 225V269M1252.5 241V269M1253.5 241V258M1254.5 246V266M1255.5 250V266M1256.5 257V266M1257.5 226V266M1258.5 226V262M1259.5 226V254M1260.5 228V254M1261.5 235V257M1262.5 229V257M1263.5 229V255M1264.5 229V237M1265.5 233V244M1266.5 234V258M1267.5 239V269M1268.5 235V269M1269.5 235V269M1270.5 235V272M1271.5 241V272M1272.5 222V270M1273.5 216V260M1274.5 216V253M1275.5 230V256M1276.5 240V278M1277.5 240V278M1278.5 236V272M1279.5 233V255M1280.5 233V243M1281.5 234V244M1282.5 239V252M1283.5 240V256M1284.5 248V264M1285.5 230V264M1286.5 230V264M1287.5 230V262M1288.5 251V272M1289.5 245V272M1290.5 237V264M1291.5 237V256M1292.5 237V256M1293.5 239V256M1294.5 239V256M1295.5 240V257M1296.5 232V258M1297.5 232V262M1298.5 232V262M1299.5 243V275M1300.5 245V275M1301.5 238V274M1302.5 238V282M1303.5 238V282M1304.5 247V282M1305.5 239V258M1306.5 239V255M1307.5 240V258M1308.5 231V258M1309.5 231V262M1310.5 231V262M1311.5 226V262M1312.5 226V254M1313.5 234V254M1314.5 222V247M1315.5 218V247M1316.5 194V233M1317.5 181V233M1318.5 167V215M1319.5 95V196M1320.5 95V173M1321.5 77V116M1322.5 67V104M1323.5 67V94M1324.5 74V160M1325.5 80V186M1326.5 129V186M1327.5 157V186M1328.5 157V182M1329.5 174V183M1330.5 116V183M1331.5 116V179M1332.5 116V159M1333.5 144V172M1334.5 144V197M1335.5 155V225M1336.5 192V231M1337.5 212V231M1338.5 224V252M1339.5 224V252M1340.5 222V252M1341.5 218V246M1342.5 218V254M1343.5 228V254M1344.5 241V271M1345.5 241V271M1346.5 248V269M1347.5 234V254M1348.5 234V254M1349.5 231V248M1350.5 215V248M1351.5 215V248M1352.5 217V260M1353.5 236V260M1354.5 228V252M1355.5 228V249M1356.5 228V262M1357.5 241V262M1358.5 242V268M1359.5 242V272M1360.5 245V272M1361.5 245V267M1362.5 226V267M1363.5 226V263M1364.5 234V259M1365.5 235V249M1366.5 237V254M1367.5 240V255M1368.5 251V256M1369.5 252V268M1370.5 253V275M1371.5 260V275M1372.5 256V275M1373.5 240V264M1374.5 235V263M1375.5 235V261M1376.5 244V264M1377.5 226V264M1378.5 226V289M1379.5 226V289M1380.5 233V289M1381.5 236V266M1382.5 232V266M1383.5 224V247M1384.5 224V246M1385.5 224V243M1386.5 225V257M1387.5 233V257M1388.5 247V270M1389.5 247V272M1390.5 250V272M1391.5 248V272M1392.5 245V253M1393.5 245V271M1394.5 245V271M1395.5 247V271M1396.5 247V259M1397.5 247V261M1398.5 246V261M1399.5 246V258M1400.5 251V272M1401.5 251V272M1402.5 232V272M1403.5 232V269M1404.5 237V263M1405.5 246V265M1406.5 246V265M1407.5 256V265M1408.5 251V262M1409.5 251V261M1410.5 232V261M1411.5 232V261M1412.5 232V252M1413.5 238V277M1414.5 238V277M1415.5 255V273M1416.5 245V259M1417.5 242V258M1418.5 242V266M1419.5 242V266M1420.5 247V276M1421.5 253V276M1422.5 249V268M1423.5 249V256M1424.5 249V263M1425.5 251V281M1426.5 249V286M1427.5 237V286M1428.5 237V265M1429.5 241V264M1430.5 241V264M1431.5 231V249M1432.5 221V256M1433.5 221V264M1434.5 241V264M1435.5 252V258M1436.5 252V272M1437.5 254V286M1438.5 256V286M1439.5 246V276M1440.5 246V267M1441.5 246V260M1442.5 246V260M1443.5 241V254M1444.5 241V260M1445.5 242V266M1446.5 253V266M1447.5 245V266M1448.5 236V262M1449.5 220V260M1450.5 220V269M1451.5 242V269M1452.5 253V272M1453.5 248V272M1454.5 248V272M1455.5 248V269M1456.5 248V264M1457.5 249V264M1458.5 249V276M1459.5 246V276M1460.5 246V276M1461.5 246V260M1462.5 248V293M1463.5 243V293M1464.5 228V293M1465.5 228V253M1466.5 230V249M1467.5 234V258M1468.5 240V258M1469.5 242V258M1470.5 231V249M1471.5 231V260M1472.5 235V267M1473.5 245V272M1474.5 244V272M1475.5 244V272M1476.5 244V263M1477.5 245V268M1478.5 234V268M1479.5 234V283M1480.5 245V283M1481.5 255V283M1482.5 248V261M1483.5 240V263" stroke="#000000"/>
<path d="M1246.5 409V431M1247.5 402V419M1248.5 395V412M1249.5 394V407M1250.5 394V412M1251.5 401V412M1252.5 402V413M1253.5 402V417M1254.5 408V420M1255.5 399V421M1256.5 397V421M1257.5 397V417M1258.5 406V417M1259.5 397V417M1260.5 396V419M1261.5 396V426M1262.5 404V426M1263.5 403V414M1264.5 402V414M1265.5 402V418M1266.5 404V419M1267.5 407V419M1268.5 407V419M1269.5 407V419M1270.5 406V419M1271.5 404V411M1272.5 404V413M1273.5 407V413M1274.5 406V411M1275.5 406V415M1276.5 406V421M1277.5 403V421M1278.5 401V426M1279.5 401V429M1280.5 401V429M1281.5 393V421M1282.5 393V420M1283.5 396V420M1284.5 385V415M1285.5 385V416M1286.5 385V419M1287.5 405V419M1288.5 404V419M1289.5 398V408M1290.5 396V408M1291.5 396V417M1292.5 396V417M1293.5 403V417M1294.5 403V412M1295.5 405V415M1296.5 405V415M1297.5 405V414M1298.5 400V414M1299.5 400V414M1300.5 401V414M1301.5 405V415M1302.5 407V415M1303.5 395V412M1304.5 395V410M1305.5 395V408M1306.5 400V408M1307.5 400V407M1308.5 401V416M1309.5 392V416M1310.5 392V416M1311.5 392V408M1312.5 390V408M1313.5 388V404M1314.5 384V395M1315.5 384V394M1316.5 371V393M1317.5 348V393M1318.5 337V376M1319.5 278V358M1320.5 268V340M1321.5 217V294M1322.5 211V285M1323.5 211V240M1324.5 215V298M1325.5 232V310M1326.5 276V332M1327.5 304V351M1328.5 322V351M1329.5 310V350M1330.5 306V338M1331.5 298V316M1332.5 298V309M1333.5 298V326M1334.5 304V351M1335.5 315V361M1336.5 344V369M1337.5 357V385M1338.5 364V390M1339.5 379V390M1340.5 378V390M1341.5 375V387M1342.5 373V387M1343.5 373V385M1344.5 365V385M1345.5 360V385M1346.5 355V369M1347.5 355V374M1348.5 359V374M1349.5 361V374M1350.5 357V369M1351.5 352V369M1352.5 352V370M1353.5 352V370M1354.5 351V362M1355.5 346V362M1356.5 346V362M1357.5 336V362M1358.5 335V357M1359.5 335V353M1360.5 331V353M1361.5 330V346M1362.5 325V337M1363.5 325V348M1364.5 330V350M1365.5 343V350M1366.5 343V356M1367.5 343V356M1368.5 340V356M1369.5 340V355M1370.5 341V358M1371.5 349V361M1372.5 350V361M1373.5 350V372M1374.5 350V380M1375.5 365V381M1376.5 368V383M1377.5 373V383M1378.5 373V393M1379.5 373V397M1380.5 388V397M1381.5 385V398M1382.5 379V398M1383.5 375V390M1384.5 375V400M1385.5 375V408M1386.5 386V408M1387.5 384V404M1388.5 384V401M1389.5 393V401M1390.5 392V404M1391.5 392V416M1392.5 395V416M1393.5 390V410M1394.5 390V412M1395.5 390V421M1396.5 404V421M1397.5 395V421M1398.5 395V414M1399.5 397V414M1400.5 397V408M1401.5 402V416M1402.5 403V416M1403.5 405V416M1404.5 405V422M1405.5 397V423M1406.5 397V423M1407.5 397V430M1408.5 405V430M1409.5 403V428M1410.5 403V422M1411.5 405V422M1412.5 405V422M1413.5 405V417M1414.5 409V422M1415.5 411V422M1416.5 410V425M1417.5 410V425M1418.5 411V435M1419.5 411V435M1420.5 414V435M1421.5 414V428M1422.5 416V429M1423.5 408V429M1424.5 408V425M1425.5 408V417M1426.5 406V417M1427.5 403V426M1428.5 403V446M1429.5 416V446M1430.5 418V446M1431.5 417V423M1432.5 415V425M1433.5 414V425M1434.5 414V426M1435.5 400V426M1436.5 400V426M1437.5 400V436M1438.5 418V436M1439.5 421V433M1440.5 400V426M1441.5 400V429M1442.5 400V429M1443.5 418V434M1444.5 422V434M1445.5 410V431M1446.5 409V430M1447.5 409V442M1448.5 409V442M1449.5 420V439M1450.5 420V437M1451.5 427V437M1452.5 429V441M1453.5 425V441M1454.5 421V441M1455.5 410V428M1456.5 407V426M1457.5 407V426M1458.5 419V430M1459.5 419V447M1460.5 417V447M1461.5 417V441M1462.5 419V424M1463.5 420V433M1464.5 421V433M1465.5 422V442M1466.5 423V449M1467.5 421V449M1468.5 421V438M1469.5 421V439M1470.5 422V439M1471.5 426V439M1472.5 423V432M1473.5 423V445M1474.5 423V445M1475.5 420V445M1476.5 420V444M1477.5 420V425M1478.5 420V435M1479.5 423V442M1480.5 426V442M1481.5 420V442M1482.5 420V440M1483.5 420V443" stroke="#ff0000"/>
<path d="M1246.5 590V600M1247.5 590V596M1248.5 591V598M1249.5 593V599M1250.5 595V600M1251.5 596V603M1252.5 597V607M1253.5 600V609M1254.5 594V609M1255.5 586V608M1256.5 585V599M1257.5 585V600M1258.5 589V605M1259.5 596V605M1260.5 595V605M1261.5 593V601M1262.5 590V598M1263.5 588V595M1264.5 586V593M1265.5 583V591M1266.5 582V589M1267.5 582V587M1268.5 583V589M1269.5 584V595M1270.5 586V601M1271.5 591V604M1272.5 594V604M1273.5 589V603M1274.5 588V598M1275.5 586V593M1276.5 585V591M1277.5 585V590M1278.5 586V592M1279.5 588V598M1280.5 589V604M1281.5 594V608M1282.5 600V608M1283.5 602V607M1284.5 601V606M1285.5 601V605M1286.5 600V604M1287.5 600V603M1288.5 600V603M1289.5 600V603M1290.5 600V603M1291.5 598V603M1292.5 594V602M1293.5 589V601M1294.5 586V597M1295.5 583V593M1296.5 581V589M1297.5 581V591M1298.5 581V599M1299.5 587V603M1300.5 593V603M1301.5 588V602M1302.5 588V597M1303.5 588V592M1304.5 588V591M1305.5 585V591M1306.5 583V591M1307.5 582V588M1308.5 582V589M1309.5 583V591M1310.5 586V593M1311.5 588V594M1312.5 586V595M1313.5 577V595M1314.5 569V591M1315.5 563V582M1316.5 557V573M1317.5 541V567M1318.5 518V561M1319.5 495V549M1320.5 472V526M1321.5 448V503M1322.5 437V480M1323.5 437V468M1324.5 441V489M1325.5 461V505M1326.5 481V522M1327.5 499V532M1328.5 515V532M1329.5 509V531M1330.5 502V522M1331.5 496V513M1332.5 492V506M1333.5 492V508M1334.5 492V519M1335.5 503V531M1336.5 513V544M1337.5 525V555M1338.5 538V555M1339.5 547V555M1340.5 546V553M1341.5 546V556M1342.5 548V560M1343.5 546V560M1344.5 534V560M1345.5 526V551M1346.5 522V540M1347.5 516V530M1348.5 516V525M1349.5 516V525M1350.5 519V527M1351.5 517V527M1352.5 512V526M1353.5 502V521M1354.5 491V516M1355.5 483V507M1356.5 483V500M1357.5 483V511M1358.5 495V514M1359.5 490V514M1360.5 480V508M1361.5 480V496M1362.5 480V491M1363.5 484V492M1364.5 482V492M1365.5 478V491M1366.5 478V487M1367.5 478V494M1368.5 483V499M1369.5 490V504M1370.5 496V509M1371.5 501V509M1372.5 503V509M1373.5 502V508M1374.5 502V515M1375.5 504V523M1376.5 511V529M1377.5 518V535M1378.5 525V542M1379.5 531V550M1380.5 537V558M1381.5 545V560M1382.5 554V560M1383.5 557V560M1384.5 557V565M1385.5 557V569M1386.5 561V571M1387.5 566V571M1388.5 568V571M1389.5 568V573M1390.5 568V576M1391.5 570V578M1392.5 573V579M1393.5 575V581M1394.5 576V581M1395.5 576V581M1396.5 573V580M1397.5 569V578M1398.5 564V577M1399.5 563V572M1400.5 563V569M1401.5 564V572M1402.5 566V580M1403.5 567V588M1404.5 576V591M1405.5 584V592M1406.5 588V593M1407.5 589V593M1408.5 588V593M1409.5 587V592M1410.5 585V591M1411.5 583V590M1412.5 583V588M1413.5 583V587M1414.5 583V587M1415.5 581V587M1416.5 579V586M1417.5 579V590M1418.5 579V599M1419.5 585V603M1420.5 587V603M1421.5 577V602M1422.5 576V592M1423.5 576V601M1424.5 584V609M1425.5 595V609M1426.5 590V608M1427.5 588V601M1428.5 588V609M1429.5 594V617M1430.5 604V617M1431.5 599V617M1432.5 595V611M1433.5 593V603M1434.5 590V598M1435.5 590V596M1436.5 590V596M1437.5 592V597M1438.5 591V597M1439.5 589V596M1440.5 589V599M1441.5 589V606M1442.5 595V610M1443.5 600V610M1444.5 594V609M1445.5 594V603M1446.5 594V598M1447.5 594V599M1448.5 591V599M1449.5 587V598M1450.5 587V595M1451.5 587V598M1452.5 589V602M1453.5 591V602M1454.5 584V602M1455.5 581V595M1456.5 581V589M1457.5 583V592M1458.5 586V599M1459.5 589V606M1460.5 595V609M1461.5 588V609M1462.5 577V605M1463.5 577V593M1464.5 577V596M1465.5 583V602M1466.5 592V605M1467.5 599V608M1468.5 602V608M1469.5 599V608M1470.5 597V606M1471.5 597V606M1472.5 597V611M1473.5 602V611M1474.5 607V611M1475.5 607V611M1476.5 604V610M1477.5 601V610M1478.5 596V607M1479.5 588V604M1480.5 582V600M1481.5 582V593M1482.5 582V593M1483.5 586V595" stroke="#0000ff"/>
</g>
<g fill="#000" shape-rendering="crispEdges">
<rect x="146.0" y="30.0" width="1668.0" height="5"/>
<rect x="146.0" y="1254.0" width="1668.0" height="6"/>
<rect x="146.0" y="30.0" width="5" height="1229.0"/>
<rect x="1809.0" y="30.0" width="5" height="1229.0"/>
<rect x="146.0" y="1256.5" width="5" height="23.5"/>
<rect x="284.6" y="1256.5" width="5" height="12.5"/>
<rect x="423.2" y="1256.5" width="5" height="23.5"/>
<rect x="561.8" y="1256.5" width="5" height="12.5"/>
<rect x="700.3" y="1256.5" width="5" height="23.5"/>
<rect x="838.9" y="1256.5" width="5" height="12.5"/>
<rect x="977.5" y="1256.5" width="5" height="23.5"/>
<rect x="1116.1" y="1256.5" width="5" height="12.5"/>
<rect x="1254.7" y="1256.5" width="5" height="23.5"/>
<rect x="1393.2" y="1256.5" width="5" height="12.5"/>
<rect x="1531.8" y="1256.5" width="5" height="23.5"/>
<rect x="1670.4" y="1256.5" width="5" height="12.5"/>
<rect x="1809.0" y="1256.5" width="5" height="23.5"/>
</g>
<g fill="none" stroke="#000" shape-rendering="crispEdges">
<rect x="1245.5" y="55.5" width="237.5" height="599.5" stroke-width="3"/>
<rect x="790" y="999" width="76" height="232.5" stroke-width="4"/>
<line x1="829" y1="519.8" x2="829" y2="1210" stroke-width="4" stroke-dasharray="15.2 12.9" stroke-dashoffset="0"/>
<line x1="1033" y1="514.3" x2="1033" y2="1224" stroke-width="4" stroke-dasharray="15.2 12.9" stroke-dashoffset="0"/>
</g>
<g fill="#000" font-family="'Liberation Sans', Arial, Helvetica, sans-serif" stroke="#000" stroke-width="1.0" stroke-linejoin="round" style="font-kerning:none">
<text transform="translate(107.40 1351.57) scale(1.0347 1)" font-size="73.33">20</text>
<text transform="translate(384.57 1351.57) scale(1.0347 1)" font-size="73.33">30</text>
<text transform="translate(661.73 1351.57) scale(1.0347 1)" font-size="73.33">40</text>
<text transform="translate(938.90 1351.57) scale(1.0347 1)" font-size="73.33">50</text>
<text transform="translate(1216.07 1351.57) scale(1.0347 1)" font-size="73.33">60</text>
<text transform="translate(1493.23 1351.57) scale(1.0347 1)" font-size="73.33">70</text>
<text transform="translate(1770.40 1351.57) scale(1.0347 1)" font-size="73.33">80</text>
<text transform="translate(70.05 871.23) rotate(-90) scale(1.0319 1)" font-size="69.69">Intensity (a.u.)</text>
<text transform="translate(875.43 1460.20) scale(1.0244 1)" font-size="83.99">2θ (°)</text>
<text transform="translate(632.63 496.83) scale(1.0356 1)" font-size="69.80">Ni (111)</text>
<text transform="translate(916.27 498.00) scale(1.0376 1)" font-size="69.91">Ni (200)</text>
<text transform="translate(1603.17 140.60) scale(1.0656 1)" font-size="70.05">rutile</text>
<text transform="translate(166.39 865.90) scale(1.0124 1)" font-size="71.51">a</text>
<text transform="translate(164.66 984.10) scale(1.0910 1)" font-size="71.03">b</text>
<text transform="translate(164.05 1100.00) scale(1.1337 1)" font-size="71.59">c</text>
</g>
<g fill="#000" font-family="'DejaVu Sans', sans-serif">
<text transform="translate(1511.03 139.83) scale(1.0906 1)" font-size="58.14">★</text>
<text transform="translate(339.77 106.20) scale(1.0146 1)" font-size="41.16">★</text>
<text transform="translate(579.97 639.85) scale(1.0146 1)" font-size="41.16">★</text>
<text transform="translate(664.97 1011.95) scale(1.0146 1)" font-size="41.16">★</text>
<text transform="translate(722.87 877.95) scale(1.0146 1)" font-size="41.16">★</text>
<text transform="translate(799.77 993.35) scale(1.0146 1)" font-size="41.16">★</text>
<text transform="translate(1083.77 568.15) scale(1.0146 1)" font-size="41.16">★</text>
<text transform="translate(1146.67 934.95) scale(1.0146 1)" font-size="41.16">★</text>
<text transform="translate(1316.97 1011.15) scale(1.0146 1)" font-size="41.16">★</text>
<text transform="translate(1354.77 1015.85) scale(1.0146 1)" font-size="41.16">★</text>
<text transform="translate(1489.87 956.85) scale(1.0146 1)" font-size="41.16">★</text>
<text transform="translate(1513.67 1021.05) scale(1.0146 1)" font-size="41.16">★</text>
<text transform="translate(1697.97 1060.15) scale(1.0146 1)" font-size="41.16">★</text>
</g>
</svg></body></html>
